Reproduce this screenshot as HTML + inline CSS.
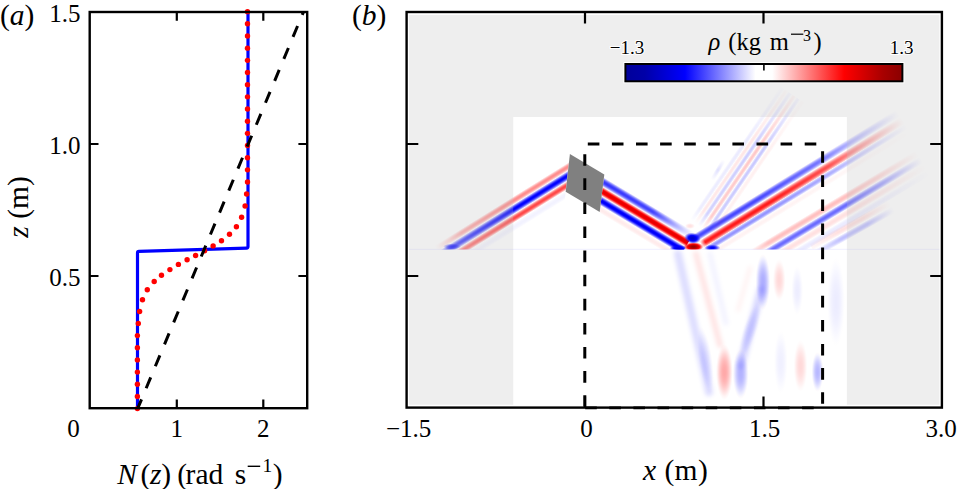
<!DOCTYPE html><html><head><meta charset="utf-8"><style>html,body{margin:0;padding:0;background:#fff;overflow:hidden}svg{display:block;font-family:"Liberation Serif",serif}</style></head><body>
<svg width="957" height="489" viewBox="0 0 957 489">
<defs>
<clipPath id="ca"><rect x="89.7" y="12" width="217.5" height="396.2"/></clipPath>
<clipPath id="cpL"><polygon points="400,0 587,0 553.67,300 400,300"/></clipPath>
<clipPath id="cpR"><polygon points="625.77,0 957,0 957,300 588.88,300"/></clipPath>
<clipPath id="cupper"><rect x="409" y="15" width="530.4" height="234.6"/></clipPath>
<clipPath id="clower"><rect x="409" y="249.6" width="530.4" height="155.1"/></clipPath>
<filter id="blr" x="-20%" y="-20%" width="140%" height="140%"><feGaussianBlur stdDeviation="1.6"/></filter>
<filter id="blr2" x="-50%" y="-20%" width="200%" height="140%"><feGaussianBlur stdDeviation="2.2"/></filter>
<linearGradient id="cbar" x1="0" y1="0" x2="1" y2="0"><stop offset="0" stop-color="#00009a"/><stop offset="0.07" stop-color="#0000a8"/><stop offset="0.215" stop-color="#0000ff"/><stop offset="0.47" stop-color="#fff"/><stop offset="0.53" stop-color="#fff"/><stop offset="0.79" stop-color="#ff0000"/><stop offset="0.93" stop-color="#a80000"/><stop offset="1" stop-color="#8a0000"/></linearGradient>
<linearGradient id="L1" x1="0" y1="0" x2="0" y2="1"><stop offset="0.000" stop-color="rgb(255,0,0)" stop-opacity="0.000"/><stop offset="0.010" stop-color="rgb(255,0,0)" stop-opacity="0.000"/><stop offset="0.021" stop-color="rgb(255,0,0)" stop-opacity="0.000"/><stop offset="0.031" stop-color="rgb(255,0,0)" stop-opacity="0.000"/><stop offset="0.042" stop-color="rgb(255,0,0)" stop-opacity="0.000"/><stop offset="0.052" stop-color="rgb(255,0,0)" stop-opacity="0.000"/><stop offset="0.062" stop-color="rgb(255,0,0)" stop-opacity="0.000"/><stop offset="0.073" stop-color="rgb(255,0,0)" stop-opacity="0.000"/><stop offset="0.083" stop-color="rgb(255,0,0)" stop-opacity="0.000"/><stop offset="0.094" stop-color="rgb(255,0,0)" stop-opacity="0.000"/><stop offset="0.104" stop-color="rgb(255,0,0)" stop-opacity="0.000"/><stop offset="0.115" stop-color="rgb(255,0,0)" stop-opacity="0.000"/><stop offset="0.125" stop-color="rgb(255,0,0)" stop-opacity="0.000"/><stop offset="0.135" stop-color="rgb(255,0,0)" stop-opacity="0.000"/><stop offset="0.146" stop-color="rgb(255,0,0)" stop-opacity="0.000"/><stop offset="0.156" stop-color="rgb(255,0,0)" stop-opacity="0.000"/><stop offset="0.167" stop-color="rgb(255,0,0)" stop-opacity="0.000"/><stop offset="0.177" stop-color="rgb(255,0,0)" stop-opacity="0.000"/><stop offset="0.188" stop-color="rgb(255,0,0)" stop-opacity="0.000"/><stop offset="0.198" stop-color="rgb(255,0,0)" stop-opacity="0.000"/><stop offset="0.208" stop-color="rgb(255,0,0)" stop-opacity="0.000"/><stop offset="0.219" stop-color="rgb(255,0,0)" stop-opacity="0.000"/><stop offset="0.229" stop-color="rgb(255,0,0)" stop-opacity="0.000"/><stop offset="0.240" stop-color="rgb(255,0,0)" stop-opacity="0.000"/><stop offset="0.250" stop-color="rgb(255,0,0)" stop-opacity="0.000"/><stop offset="0.260" stop-color="rgb(255,0,0)" stop-opacity="0.000"/><stop offset="0.271" stop-color="rgb(255,0,0)" stop-opacity="0.000"/><stop offset="0.281" stop-color="rgb(255,0,0)" stop-opacity="0.000"/><stop offset="0.292" stop-color="rgb(255,0,0)" stop-opacity="0.000"/><stop offset="0.302" stop-color="rgb(255,0,0)" stop-opacity="0.000"/><stop offset="0.312" stop-color="rgb(255,0,0)" stop-opacity="0.000"/><stop offset="0.323" stop-color="rgb(255,0,0)" stop-opacity="0.000"/><stop offset="0.333" stop-color="rgb(255,0,0)" stop-opacity="0.000"/><stop offset="0.344" stop-color="rgb(255,0,0)" stop-opacity="0.000"/><stop offset="0.354" stop-color="rgb(255,0,0)" stop-opacity="0.000"/><stop offset="0.365" stop-color="rgb(255,0,0)" stop-opacity="0.000"/><stop offset="0.375" stop-color="rgb(255,0,0)" stop-opacity="0.000"/><stop offset="0.385" stop-color="rgb(255,0,0)" stop-opacity="0.000"/><stop offset="0.396" stop-color="rgb(255,0,0)" stop-opacity="0.000"/><stop offset="0.406" stop-color="rgb(0,0,255)" stop-opacity="0.028"/><stop offset="0.417" stop-color="rgb(0,0,255)" stop-opacity="0.198"/><stop offset="0.427" stop-color="rgb(0,0,255)" stop-opacity="0.362"/><stop offset="0.438" stop-color="rgb(0,0,255)" stop-opacity="0.516"/><stop offset="0.448" stop-color="rgb(0,0,255)" stop-opacity="0.655"/><stop offset="0.458" stop-color="rgb(0,0,255)" stop-opacity="0.774"/><stop offset="0.469" stop-color="rgb(0,0,255)" stop-opacity="0.871"/><stop offset="0.479" stop-color="rgb(0,0,255)" stop-opacity="0.942"/><stop offset="0.490" stop-color="rgb(0,0,255)" stop-opacity="0.985"/><stop offset="0.500" stop-color="rgb(0,0,255)" stop-opacity="1.000"/><stop offset="0.510" stop-color="rgb(0,0,255)" stop-opacity="0.985"/><stop offset="0.521" stop-color="rgb(0,0,255)" stop-opacity="0.942"/><stop offset="0.531" stop-color="rgb(0,0,255)" stop-opacity="0.871"/><stop offset="0.542" stop-color="rgb(0,0,255)" stop-opacity="0.774"/><stop offset="0.552" stop-color="rgb(0,0,255)" stop-opacity="0.655"/><stop offset="0.562" stop-color="rgb(0,0,255)" stop-opacity="0.516"/><stop offset="0.573" stop-color="rgb(0,0,255)" stop-opacity="0.362"/><stop offset="0.583" stop-color="rgb(0,0,255)" stop-opacity="0.198"/><stop offset="0.594" stop-color="rgb(0,0,255)" stop-opacity="0.028"/><stop offset="0.604" stop-color="rgb(255,0,0)" stop-opacity="0.120"/><stop offset="0.615" stop-color="rgb(255,0,0)" stop-opacity="0.259"/><stop offset="0.625" stop-color="rgb(255,0,0)" stop-opacity="0.387"/><stop offset="0.635" stop-color="rgb(255,0,0)" stop-opacity="0.500"/><stop offset="0.646" stop-color="rgb(255,0,0)" stop-opacity="0.593"/><stop offset="0.656" stop-color="rgb(255,0,0)" stop-opacity="0.662"/><stop offset="0.667" stop-color="rgb(255,0,0)" stop-opacity="0.705"/><stop offset="0.677" stop-color="rgb(255,0,0)" stop-opacity="0.720"/><stop offset="0.688" stop-color="rgb(255,0,0)" stop-opacity="0.706"/><stop offset="0.698" stop-color="rgb(255,0,0)" stop-opacity="0.664"/><stop offset="0.708" stop-color="rgb(255,0,0)" stop-opacity="0.596"/><stop offset="0.719" stop-color="rgb(255,0,0)" stop-opacity="0.504"/><stop offset="0.729" stop-color="rgb(255,0,0)" stop-opacity="0.391"/><stop offset="0.740" stop-color="rgb(255,0,0)" stop-opacity="0.263"/><stop offset="0.750" stop-color="rgb(255,0,0)" stop-opacity="0.125"/><stop offset="0.760" stop-color="rgb(255,0,0)" stop-opacity="0.000"/><stop offset="0.771" stop-color="rgb(0,0,255)" stop-opacity="0.005"/><stop offset="0.781" stop-color="rgb(0,0,255)" stop-opacity="0.015"/><stop offset="0.792" stop-color="rgb(0,0,255)" stop-opacity="0.024"/><stop offset="0.802" stop-color="rgb(0,0,255)" stop-opacity="0.032"/><stop offset="0.812" stop-color="rgb(0,0,255)" stop-opacity="0.039"/><stop offset="0.823" stop-color="rgb(0,0,255)" stop-opacity="0.044"/><stop offset="0.833" stop-color="rgb(0,0,255)" stop-opacity="0.048"/><stop offset="0.844" stop-color="rgb(0,0,255)" stop-opacity="0.050"/><stop offset="0.854" stop-color="rgb(0,0,255)" stop-opacity="0.050"/><stop offset="0.865" stop-color="rgb(0,0,255)" stop-opacity="0.047"/><stop offset="0.875" stop-color="rgb(0,0,255)" stop-opacity="0.043"/><stop offset="0.885" stop-color="rgb(0,0,255)" stop-opacity="0.037"/><stop offset="0.896" stop-color="rgb(0,0,255)" stop-opacity="0.030"/><stop offset="0.906" stop-color="rgb(0,0,255)" stop-opacity="0.022"/><stop offset="0.917" stop-color="rgb(0,0,255)" stop-opacity="0.012"/><stop offset="0.927" stop-color="rgb(0,0,255)" stop-opacity="0.002"/><stop offset="0.938" stop-color="rgb(255,0,0)" stop-opacity="0.000"/><stop offset="0.948" stop-color="rgb(255,0,0)" stop-opacity="0.000"/><stop offset="0.958" stop-color="rgb(255,0,0)" stop-opacity="0.000"/><stop offset="0.969" stop-color="rgb(255,0,0)" stop-opacity="0.000"/><stop offset="0.979" stop-color="rgb(255,0,0)" stop-opacity="0.000"/><stop offset="0.990" stop-color="rgb(255,0,0)" stop-opacity="0.000"/><stop offset="1.000" stop-color="rgb(255,0,0)" stop-opacity="0.000"/></linearGradient>
<linearGradient id="L1mg" x1="0" y1="0" x2="1" y2="0"><stop offset="0.000" stop-color="#fff" stop-opacity="0.000"/><stop offset="0.043" stop-color="#fff" stop-opacity="0.450"/><stop offset="0.097" stop-color="#fff" stop-opacity="0.650"/><stop offset="0.269" stop-color="#fff" stop-opacity="0.800"/><stop offset="0.511" stop-color="#fff" stop-opacity="1.000"/><stop offset="1.000" stop-color="#fff" stop-opacity="1.000"/></linearGradient>
<mask id="L1m" maskUnits="userSpaceOnUse" x="-5" y="-27" width="195.9" height="54"><rect x="0" y="-22" width="185.9" height="44" fill="url(#L1mg)"/></mask>
<linearGradient id="L1u" x1="0" y1="0" x2="0" y2="1"><stop offset="0.000" stop-color="rgb(255,0,0)" stop-opacity="0.000"/><stop offset="0.010" stop-color="rgb(255,0,0)" stop-opacity="0.000"/><stop offset="0.021" stop-color="rgb(255,0,0)" stop-opacity="0.000"/><stop offset="0.031" stop-color="rgb(255,0,0)" stop-opacity="0.000"/><stop offset="0.042" stop-color="rgb(255,0,0)" stop-opacity="0.000"/><stop offset="0.052" stop-color="rgb(255,0,0)" stop-opacity="0.000"/><stop offset="0.062" stop-color="rgb(255,0,0)" stop-opacity="0.000"/><stop offset="0.073" stop-color="rgb(255,0,0)" stop-opacity="0.000"/><stop offset="0.083" stop-color="rgb(255,0,0)" stop-opacity="0.000"/><stop offset="0.094" stop-color="rgb(255,0,0)" stop-opacity="0.000"/><stop offset="0.104" stop-color="rgb(255,0,0)" stop-opacity="0.000"/><stop offset="0.115" stop-color="rgb(255,0,0)" stop-opacity="0.000"/><stop offset="0.125" stop-color="rgb(255,0,0)" stop-opacity="0.000"/><stop offset="0.135" stop-color="rgb(255,0,0)" stop-opacity="0.000"/><stop offset="0.146" stop-color="rgb(255,0,0)" stop-opacity="0.000"/><stop offset="0.156" stop-color="rgb(255,0,0)" stop-opacity="0.000"/><stop offset="0.167" stop-color="rgb(255,0,0)" stop-opacity="0.000"/><stop offset="0.177" stop-color="rgb(255,0,0)" stop-opacity="0.000"/><stop offset="0.188" stop-color="rgb(255,0,0)" stop-opacity="0.000"/><stop offset="0.198" stop-color="rgb(255,0,0)" stop-opacity="0.000"/><stop offset="0.208" stop-color="rgb(255,0,0)" stop-opacity="0.000"/><stop offset="0.219" stop-color="rgb(255,0,0)" stop-opacity="0.000"/><stop offset="0.229" stop-color="rgb(255,0,0)" stop-opacity="0.000"/><stop offset="0.240" stop-color="rgb(255,0,0)" stop-opacity="0.000"/><stop offset="0.250" stop-color="rgb(255,0,0)" stop-opacity="0.000"/><stop offset="0.260" stop-color="rgb(255,0,0)" stop-opacity="0.074"/><stop offset="0.271" stop-color="rgb(255,0,0)" stop-opacity="0.166"/><stop offset="0.281" stop-color="rgb(255,0,0)" stop-opacity="0.250"/><stop offset="0.292" stop-color="rgb(255,0,0)" stop-opacity="0.323"/><stop offset="0.302" stop-color="rgb(255,0,0)" stop-opacity="0.382"/><stop offset="0.312" stop-color="rgb(255,0,0)" stop-opacity="0.423"/><stop offset="0.323" stop-color="rgb(255,0,0)" stop-opacity="0.446"/><stop offset="0.333" stop-color="rgb(255,0,0)" stop-opacity="0.449"/><stop offset="0.344" stop-color="rgb(255,0,0)" stop-opacity="0.431"/><stop offset="0.354" stop-color="rgb(255,0,0)" stop-opacity="0.395"/><stop offset="0.365" stop-color="rgb(255,0,0)" stop-opacity="0.341"/><stop offset="0.375" stop-color="rgb(255,0,0)" stop-opacity="0.271"/><stop offset="0.385" stop-color="rgb(255,0,0)" stop-opacity="0.190"/><stop offset="0.396" stop-color="rgb(255,0,0)" stop-opacity="0.100"/><stop offset="0.406" stop-color="rgb(255,0,0)" stop-opacity="0.005"/><stop offset="0.417" stop-color="rgb(255,0,0)" stop-opacity="0.000"/><stop offset="0.427" stop-color="rgb(255,0,0)" stop-opacity="0.000"/><stop offset="0.438" stop-color="rgb(255,0,0)" stop-opacity="0.000"/><stop offset="0.448" stop-color="rgb(255,0,0)" stop-opacity="0.000"/><stop offset="0.458" stop-color="rgb(255,0,0)" stop-opacity="0.000"/><stop offset="0.469" stop-color="rgb(255,0,0)" stop-opacity="0.000"/><stop offset="0.479" stop-color="rgb(255,0,0)" stop-opacity="0.000"/><stop offset="0.490" stop-color="rgb(255,0,0)" stop-opacity="0.000"/><stop offset="0.500" stop-color="rgb(255,0,0)" stop-opacity="0.000"/><stop offset="0.510" stop-color="rgb(255,0,0)" stop-opacity="0.000"/><stop offset="0.521" stop-color="rgb(255,0,0)" stop-opacity="0.000"/><stop offset="0.531" stop-color="rgb(255,0,0)" stop-opacity="0.000"/><stop offset="0.542" stop-color="rgb(255,0,0)" stop-opacity="0.000"/><stop offset="0.552" stop-color="rgb(255,0,0)" stop-opacity="0.000"/><stop offset="0.562" stop-color="rgb(255,0,0)" stop-opacity="0.000"/><stop offset="0.573" stop-color="rgb(255,0,0)" stop-opacity="0.000"/><stop offset="0.583" stop-color="rgb(255,0,0)" stop-opacity="0.000"/><stop offset="0.594" stop-color="rgb(255,0,0)" stop-opacity="0.000"/><stop offset="0.604" stop-color="rgb(255,0,0)" stop-opacity="0.000"/><stop offset="0.615" stop-color="rgb(255,0,0)" stop-opacity="0.000"/><stop offset="0.625" stop-color="rgb(255,0,0)" stop-opacity="0.000"/><stop offset="0.635" stop-color="rgb(255,0,0)" stop-opacity="0.000"/><stop offset="0.646" stop-color="rgb(255,0,0)" stop-opacity="0.000"/><stop offset="0.656" stop-color="rgb(255,0,0)" stop-opacity="0.000"/><stop offset="0.667" stop-color="rgb(255,0,0)" stop-opacity="0.000"/><stop offset="0.677" stop-color="rgb(255,0,0)" stop-opacity="0.000"/><stop offset="0.688" stop-color="rgb(255,0,0)" stop-opacity="0.000"/><stop offset="0.698" stop-color="rgb(255,0,0)" stop-opacity="0.000"/><stop offset="0.708" stop-color="rgb(255,0,0)" stop-opacity="0.000"/><stop offset="0.719" stop-color="rgb(255,0,0)" stop-opacity="0.000"/><stop offset="0.729" stop-color="rgb(255,0,0)" stop-opacity="0.000"/><stop offset="0.740" stop-color="rgb(255,0,0)" stop-opacity="0.000"/><stop offset="0.750" stop-color="rgb(255,0,0)" stop-opacity="0.000"/><stop offset="0.760" stop-color="rgb(255,0,0)" stop-opacity="0.000"/><stop offset="0.771" stop-color="rgb(255,0,0)" stop-opacity="0.000"/><stop offset="0.781" stop-color="rgb(255,0,0)" stop-opacity="0.000"/><stop offset="0.792" stop-color="rgb(255,0,0)" stop-opacity="0.000"/><stop offset="0.802" stop-color="rgb(255,0,0)" stop-opacity="0.000"/><stop offset="0.812" stop-color="rgb(255,0,0)" stop-opacity="0.000"/><stop offset="0.823" stop-color="rgb(255,0,0)" stop-opacity="0.000"/><stop offset="0.833" stop-color="rgb(255,0,0)" stop-opacity="0.000"/><stop offset="0.844" stop-color="rgb(255,0,0)" stop-opacity="0.000"/><stop offset="0.854" stop-color="rgb(255,0,0)" stop-opacity="0.000"/><stop offset="0.865" stop-color="rgb(255,0,0)" stop-opacity="0.000"/><stop offset="0.875" stop-color="rgb(255,0,0)" stop-opacity="0.000"/><stop offset="0.885" stop-color="rgb(255,0,0)" stop-opacity="0.000"/><stop offset="0.896" stop-color="rgb(255,0,0)" stop-opacity="0.000"/><stop offset="0.906" stop-color="rgb(255,0,0)" stop-opacity="0.000"/><stop offset="0.917" stop-color="rgb(255,0,0)" stop-opacity="0.000"/><stop offset="0.927" stop-color="rgb(255,0,0)" stop-opacity="0.000"/><stop offset="0.938" stop-color="rgb(255,0,0)" stop-opacity="0.000"/><stop offset="0.948" stop-color="rgb(255,0,0)" stop-opacity="0.000"/><stop offset="0.958" stop-color="rgb(255,0,0)" stop-opacity="0.000"/><stop offset="0.969" stop-color="rgb(255,0,0)" stop-opacity="0.000"/><stop offset="0.979" stop-color="rgb(255,0,0)" stop-opacity="0.000"/><stop offset="0.990" stop-color="rgb(255,0,0)" stop-opacity="0.000"/><stop offset="1.000" stop-color="rgb(255,0,0)" stop-opacity="0.000"/></linearGradient>
<linearGradient id="L1umg" x1="0" y1="0" x2="1" y2="0"><stop offset="0.000" stop-color="#fff" stop-opacity="0.000"/><stop offset="0.079" stop-color="#fff" stop-opacity="0.300"/><stop offset="0.170" stop-color="#fff" stop-opacity="0.700"/><stop offset="0.453" stop-color="#fff" stop-opacity="1.000"/><stop offset="1.000" stop-color="#fff" stop-opacity="1.000"/></linearGradient>
<mask id="L1um" maskUnits="userSpaceOnUse" x="-5" y="-27" width="186.49" height="54"><rect x="0" y="-22" width="176.49" height="44" fill="url(#L1umg)"/></mask>
<linearGradient id="D1" x1="0" y1="0" x2="0" y2="1"><stop offset="0.000" stop-color="rgb(255,0,0)" stop-opacity="0.000"/><stop offset="0.010" stop-color="rgb(255,0,0)" stop-opacity="0.000"/><stop offset="0.021" stop-color="rgb(255,0,0)" stop-opacity="0.000"/><stop offset="0.031" stop-color="rgb(255,0,0)" stop-opacity="0.000"/><stop offset="0.042" stop-color="rgb(255,0,0)" stop-opacity="0.000"/><stop offset="0.052" stop-color="rgb(255,0,0)" stop-opacity="0.000"/><stop offset="0.062" stop-color="rgb(255,0,0)" stop-opacity="0.000"/><stop offset="0.073" stop-color="rgb(255,0,0)" stop-opacity="0.000"/><stop offset="0.083" stop-color="rgb(255,0,0)" stop-opacity="0.000"/><stop offset="0.094" stop-color="rgb(255,0,0)" stop-opacity="0.000"/><stop offset="0.104" stop-color="rgb(255,0,0)" stop-opacity="0.000"/><stop offset="0.115" stop-color="rgb(255,0,0)" stop-opacity="0.000"/><stop offset="0.125" stop-color="rgb(255,0,0)" stop-opacity="0.000"/><stop offset="0.135" stop-color="rgb(255,0,0)" stop-opacity="0.000"/><stop offset="0.146" stop-color="rgb(255,0,0)" stop-opacity="0.000"/><stop offset="0.156" stop-color="rgb(255,0,0)" stop-opacity="0.000"/><stop offset="0.167" stop-color="rgb(255,0,0)" stop-opacity="0.000"/><stop offset="0.177" stop-color="rgb(255,0,0)" stop-opacity="0.000"/><stop offset="0.188" stop-color="rgb(255,0,0)" stop-opacity="0.000"/><stop offset="0.198" stop-color="rgb(255,0,0)" stop-opacity="0.000"/><stop offset="0.208" stop-color="rgb(255,0,0)" stop-opacity="0.000"/><stop offset="0.219" stop-color="rgb(255,0,0)" stop-opacity="0.000"/><stop offset="0.229" stop-color="rgb(255,0,0)" stop-opacity="0.000"/><stop offset="0.240" stop-color="rgb(255,0,0)" stop-opacity="0.000"/><stop offset="0.250" stop-color="rgb(255,0,0)" stop-opacity="0.000"/><stop offset="0.260" stop-color="rgb(255,0,0)" stop-opacity="0.000"/><stop offset="0.271" stop-color="rgb(255,0,0)" stop-opacity="0.000"/><stop offset="0.281" stop-color="rgb(255,0,0)" stop-opacity="0.000"/><stop offset="0.292" stop-color="rgb(255,0,0)" stop-opacity="0.000"/><stop offset="0.302" stop-color="rgb(255,0,0)" stop-opacity="0.000"/><stop offset="0.312" stop-color="rgb(255,0,0)" stop-opacity="0.000"/><stop offset="0.323" stop-color="rgb(255,0,0)" stop-opacity="0.000"/><stop offset="0.333" stop-color="rgb(255,0,0)" stop-opacity="0.000"/><stop offset="0.344" stop-color="rgb(255,0,0)" stop-opacity="0.000"/><stop offset="0.354" stop-color="rgb(255,0,0)" stop-opacity="0.000"/><stop offset="0.365" stop-color="rgb(255,0,0)" stop-opacity="0.000"/><stop offset="0.375" stop-color="rgb(255,0,0)" stop-opacity="0.000"/><stop offset="0.385" stop-color="rgb(255,0,0)" stop-opacity="0.000"/><stop offset="0.396" stop-color="rgb(255,0,0)" stop-opacity="0.000"/><stop offset="0.406" stop-color="rgb(255,0,0)" stop-opacity="0.077"/><stop offset="0.417" stop-color="rgb(255,0,0)" stop-opacity="0.275"/><stop offset="0.427" stop-color="rgb(255,0,0)" stop-opacity="0.466"/><stop offset="0.438" stop-color="rgb(255,0,0)" stop-opacity="0.644"/><stop offset="0.448" stop-color="rgb(255,0,0)" stop-opacity="0.803"/><stop offset="0.458" stop-color="rgb(255,0,0)" stop-opacity="0.941"/><stop offset="0.469" stop-color="rgb(248,0,0)" stop-opacity="1.000"/><stop offset="0.479" stop-color="rgb(238,0,0)" stop-opacity="1.000"/><stop offset="0.490" stop-color="rgb(232,0,0)" stop-opacity="1.000"/><stop offset="0.500" stop-color="rgb(230,0,0)" stop-opacity="1.000"/><stop offset="0.510" stop-color="rgb(232,0,0)" stop-opacity="1.000"/><stop offset="0.521" stop-color="rgb(238,0,0)" stop-opacity="1.000"/><stop offset="0.531" stop-color="rgb(248,0,0)" stop-opacity="1.000"/><stop offset="0.542" stop-color="rgb(255,0,0)" stop-opacity="0.941"/><stop offset="0.552" stop-color="rgb(255,0,0)" stop-opacity="0.803"/><stop offset="0.562" stop-color="rgb(255,0,0)" stop-opacity="0.644"/><stop offset="0.573" stop-color="rgb(255,0,0)" stop-opacity="0.466"/><stop offset="0.583" stop-color="rgb(255,0,0)" stop-opacity="0.275"/><stop offset="0.594" stop-color="rgb(255,0,0)" stop-opacity="0.077"/><stop offset="0.604" stop-color="rgb(0,0,255)" stop-opacity="0.108"/><stop offset="0.615" stop-color="rgb(0,0,255)" stop-opacity="0.281"/><stop offset="0.625" stop-color="rgb(0,0,255)" stop-opacity="0.446"/><stop offset="0.635" stop-color="rgb(0,0,255)" stop-opacity="0.598"/><stop offset="0.646" stop-color="rgb(0,0,255)" stop-opacity="0.733"/><stop offset="0.656" stop-color="rgb(0,0,255)" stop-opacity="0.848"/><stop offset="0.667" stop-color="rgb(0,0,255)" stop-opacity="0.940"/><stop offset="0.677" stop-color="rgb(0,0,254)" stop-opacity="1.000"/><stop offset="0.688" stop-color="rgb(0,0,249)" stop-opacity="1.000"/><stop offset="0.698" stop-color="rgb(0,0,248)" stop-opacity="1.000"/><stop offset="0.708" stop-color="rgb(0,0,251)" stop-opacity="1.000"/><stop offset="0.719" stop-color="rgb(0,0,255)" stop-opacity="0.977"/><stop offset="0.729" stop-color="rgb(0,0,255)" stop-opacity="0.900"/><stop offset="0.740" stop-color="rgb(0,0,255)" stop-opacity="0.797"/><stop offset="0.750" stop-color="rgb(0,0,255)" stop-opacity="0.672"/><stop offset="0.760" stop-color="rgb(0,0,255)" stop-opacity="0.528"/><stop offset="0.771" stop-color="rgb(0,0,255)" stop-opacity="0.369"/><stop offset="0.781" stop-color="rgb(0,0,255)" stop-opacity="0.200"/><stop offset="0.792" stop-color="rgb(0,0,255)" stop-opacity="0.026"/><stop offset="0.802" stop-color="rgb(255,0,0)" stop-opacity="0.003"/><stop offset="0.812" stop-color="rgb(255,0,0)" stop-opacity="0.021"/><stop offset="0.823" stop-color="rgb(255,0,0)" stop-opacity="0.037"/><stop offset="0.833" stop-color="rgb(255,0,0)" stop-opacity="0.051"/><stop offset="0.844" stop-color="rgb(255,0,0)" stop-opacity="0.063"/><stop offset="0.854" stop-color="rgb(255,0,0)" stop-opacity="0.073"/><stop offset="0.865" stop-color="rgb(255,0,0)" stop-opacity="0.078"/><stop offset="0.875" stop-color="rgb(255,0,0)" stop-opacity="0.080"/><stop offset="0.885" stop-color="rgb(255,0,0)" stop-opacity="0.078"/><stop offset="0.896" stop-color="rgb(255,0,0)" stop-opacity="0.073"/><stop offset="0.906" stop-color="rgb(255,0,0)" stop-opacity="0.063"/><stop offset="0.917" stop-color="rgb(255,0,0)" stop-opacity="0.051"/><stop offset="0.927" stop-color="rgb(255,0,0)" stop-opacity="0.037"/><stop offset="0.938" stop-color="rgb(255,0,0)" stop-opacity="0.021"/><stop offset="0.948" stop-color="rgb(255,0,0)" stop-opacity="0.003"/><stop offset="0.958" stop-color="rgb(255,0,0)" stop-opacity="0.000"/><stop offset="0.969" stop-color="rgb(255,0,0)" stop-opacity="0.000"/><stop offset="0.979" stop-color="rgb(255,0,0)" stop-opacity="0.000"/><stop offset="0.990" stop-color="rgb(255,0,0)" stop-opacity="0.000"/><stop offset="1.000" stop-color="rgb(255,0,0)" stop-opacity="0.000"/></linearGradient>
<linearGradient id="D1t" x1="0" y1="0" x2="0" y2="1"><stop offset="0.000" stop-color="rgb(255,0,0)" stop-opacity="0.000"/><stop offset="0.010" stop-color="rgb(255,0,0)" stop-opacity="0.000"/><stop offset="0.021" stop-color="rgb(255,0,0)" stop-opacity="0.000"/><stop offset="0.031" stop-color="rgb(255,0,0)" stop-opacity="0.000"/><stop offset="0.042" stop-color="rgb(255,0,0)" stop-opacity="0.000"/><stop offset="0.052" stop-color="rgb(255,0,0)" stop-opacity="0.000"/><stop offset="0.062" stop-color="rgb(255,0,0)" stop-opacity="0.000"/><stop offset="0.073" stop-color="rgb(255,0,0)" stop-opacity="0.000"/><stop offset="0.083" stop-color="rgb(255,0,0)" stop-opacity="0.000"/><stop offset="0.094" stop-color="rgb(255,0,0)" stop-opacity="0.000"/><stop offset="0.104" stop-color="rgb(255,0,0)" stop-opacity="0.000"/><stop offset="0.115" stop-color="rgb(255,0,0)" stop-opacity="0.000"/><stop offset="0.125" stop-color="rgb(255,0,0)" stop-opacity="0.000"/><stop offset="0.135" stop-color="rgb(255,0,0)" stop-opacity="0.000"/><stop offset="0.146" stop-color="rgb(255,0,0)" stop-opacity="0.000"/><stop offset="0.156" stop-color="rgb(255,0,0)" stop-opacity="0.000"/><stop offset="0.167" stop-color="rgb(255,0,0)" stop-opacity="0.000"/><stop offset="0.177" stop-color="rgb(255,0,0)" stop-opacity="0.000"/><stop offset="0.188" stop-color="rgb(255,0,0)" stop-opacity="0.000"/><stop offset="0.198" stop-color="rgb(255,0,0)" stop-opacity="0.000"/><stop offset="0.208" stop-color="rgb(0,0,255)" stop-opacity="0.020"/><stop offset="0.219" stop-color="rgb(0,0,255)" stop-opacity="0.156"/><stop offset="0.229" stop-color="rgb(0,0,255)" stop-opacity="0.288"/><stop offset="0.240" stop-color="rgb(0,0,255)" stop-opacity="0.412"/><stop offset="0.250" stop-color="rgb(0,0,255)" stop-opacity="0.525"/><stop offset="0.260" stop-color="rgb(0,0,255)" stop-opacity="0.622"/><stop offset="0.271" stop-color="rgb(0,0,255)" stop-opacity="0.703"/><stop offset="0.281" stop-color="rgb(0,0,255)" stop-opacity="0.763"/><stop offset="0.292" stop-color="rgb(0,0,255)" stop-opacity="0.802"/><stop offset="0.302" stop-color="rgb(0,0,255)" stop-opacity="0.819"/><stop offset="0.312" stop-color="rgb(0,0,255)" stop-opacity="0.813"/><stop offset="0.323" stop-color="rgb(0,0,255)" stop-opacity="0.785"/><stop offset="0.333" stop-color="rgb(0,0,255)" stop-opacity="0.734"/><stop offset="0.344" stop-color="rgb(0,0,255)" stop-opacity="0.663"/><stop offset="0.354" stop-color="rgb(0,0,255)" stop-opacity="0.573"/><stop offset="0.365" stop-color="rgb(0,0,255)" stop-opacity="0.467"/><stop offset="0.375" stop-color="rgb(0,0,255)" stop-opacity="0.348"/><stop offset="0.385" stop-color="rgb(0,0,255)" stop-opacity="0.219"/><stop offset="0.396" stop-color="rgb(0,0,255)" stop-opacity="0.085"/><stop offset="0.406" stop-color="rgb(255,0,0)" stop-opacity="0.000"/><stop offset="0.417" stop-color="rgb(255,0,0)" stop-opacity="0.000"/><stop offset="0.427" stop-color="rgb(255,0,0)" stop-opacity="0.000"/><stop offset="0.438" stop-color="rgb(255,0,0)" stop-opacity="0.000"/><stop offset="0.448" stop-color="rgb(255,0,0)" stop-opacity="0.000"/><stop offset="0.458" stop-color="rgb(255,0,0)" stop-opacity="0.000"/><stop offset="0.469" stop-color="rgb(255,0,0)" stop-opacity="0.000"/><stop offset="0.479" stop-color="rgb(255,0,0)" stop-opacity="0.000"/><stop offset="0.490" stop-color="rgb(255,0,0)" stop-opacity="0.000"/><stop offset="0.500" stop-color="rgb(255,0,0)" stop-opacity="0.000"/><stop offset="0.510" stop-color="rgb(255,0,0)" stop-opacity="0.000"/><stop offset="0.521" stop-color="rgb(255,0,0)" stop-opacity="0.000"/><stop offset="0.531" stop-color="rgb(255,0,0)" stop-opacity="0.000"/><stop offset="0.542" stop-color="rgb(255,0,0)" stop-opacity="0.000"/><stop offset="0.552" stop-color="rgb(255,0,0)" stop-opacity="0.000"/><stop offset="0.562" stop-color="rgb(255,0,0)" stop-opacity="0.000"/><stop offset="0.573" stop-color="rgb(255,0,0)" stop-opacity="0.000"/><stop offset="0.583" stop-color="rgb(255,0,0)" stop-opacity="0.000"/><stop offset="0.594" stop-color="rgb(255,0,0)" stop-opacity="0.000"/><stop offset="0.604" stop-color="rgb(255,0,0)" stop-opacity="0.000"/><stop offset="0.615" stop-color="rgb(255,0,0)" stop-opacity="0.000"/><stop offset="0.625" stop-color="rgb(255,0,0)" stop-opacity="0.000"/><stop offset="0.635" stop-color="rgb(255,0,0)" stop-opacity="0.000"/><stop offset="0.646" stop-color="rgb(255,0,0)" stop-opacity="0.000"/><stop offset="0.656" stop-color="rgb(255,0,0)" stop-opacity="0.000"/><stop offset="0.667" stop-color="rgb(255,0,0)" stop-opacity="0.000"/><stop offset="0.677" stop-color="rgb(255,0,0)" stop-opacity="0.000"/><stop offset="0.688" stop-color="rgb(255,0,0)" stop-opacity="0.000"/><stop offset="0.698" stop-color="rgb(255,0,0)" stop-opacity="0.000"/><stop offset="0.708" stop-color="rgb(255,0,0)" stop-opacity="0.000"/><stop offset="0.719" stop-color="rgb(255,0,0)" stop-opacity="0.000"/><stop offset="0.729" stop-color="rgb(255,0,0)" stop-opacity="0.000"/><stop offset="0.740" stop-color="rgb(255,0,0)" stop-opacity="0.000"/><stop offset="0.750" stop-color="rgb(255,0,0)" stop-opacity="0.000"/><stop offset="0.760" stop-color="rgb(255,0,0)" stop-opacity="0.000"/><stop offset="0.771" stop-color="rgb(255,0,0)" stop-opacity="0.000"/><stop offset="0.781" stop-color="rgb(255,0,0)" stop-opacity="0.000"/><stop offset="0.792" stop-color="rgb(255,0,0)" stop-opacity="0.000"/><stop offset="0.802" stop-color="rgb(255,0,0)" stop-opacity="0.000"/><stop offset="0.812" stop-color="rgb(255,0,0)" stop-opacity="0.000"/><stop offset="0.823" stop-color="rgb(255,0,0)" stop-opacity="0.000"/><stop offset="0.833" stop-color="rgb(255,0,0)" stop-opacity="0.000"/><stop offset="0.844" stop-color="rgb(255,0,0)" stop-opacity="0.000"/><stop offset="0.854" stop-color="rgb(255,0,0)" stop-opacity="0.000"/><stop offset="0.865" stop-color="rgb(255,0,0)" stop-opacity="0.000"/><stop offset="0.875" stop-color="rgb(255,0,0)" stop-opacity="0.000"/><stop offset="0.885" stop-color="rgb(255,0,0)" stop-opacity="0.000"/><stop offset="0.896" stop-color="rgb(255,0,0)" stop-opacity="0.000"/><stop offset="0.906" stop-color="rgb(255,0,0)" stop-opacity="0.000"/><stop offset="0.917" stop-color="rgb(255,0,0)" stop-opacity="0.000"/><stop offset="0.927" stop-color="rgb(255,0,0)" stop-opacity="0.000"/><stop offset="0.938" stop-color="rgb(255,0,0)" stop-opacity="0.000"/><stop offset="0.948" stop-color="rgb(255,0,0)" stop-opacity="0.000"/><stop offset="0.958" stop-color="rgb(255,0,0)" stop-opacity="0.000"/><stop offset="0.969" stop-color="rgb(255,0,0)" stop-opacity="0.000"/><stop offset="0.979" stop-color="rgb(255,0,0)" stop-opacity="0.000"/><stop offset="0.990" stop-color="rgb(255,0,0)" stop-opacity="0.000"/><stop offset="1.000" stop-color="rgb(255,0,0)" stop-opacity="0.000"/></linearGradient>
<linearGradient id="D1tmg" x1="0" y1="0" x2="1" y2="0"><stop offset="0.000" stop-color="#fff" stop-opacity="1.000"/><stop offset="0.624" stop-color="#fff" stop-opacity="0.900"/><stop offset="0.842" stop-color="#fff" stop-opacity="0.350"/><stop offset="0.998" stop-color="#fff" stop-opacity="0.000"/></linearGradient>
<mask id="D1tm" maskUnits="userSpaceOnUse" x="-5" y="-27" width="138.28" height="54"><rect x="0" y="-22" width="128.28" height="44" fill="url(#D1tmg)"/></mask>
<linearGradient id="R1" x1="0" y1="0" x2="0" y2="1"><stop offset="0.000" stop-color="rgb(255,0,0)" stop-opacity="0.000"/><stop offset="0.010" stop-color="rgb(255,0,0)" stop-opacity="0.000"/><stop offset="0.021" stop-color="rgb(255,0,0)" stop-opacity="0.000"/><stop offset="0.031" stop-color="rgb(255,0,0)" stop-opacity="0.000"/><stop offset="0.042" stop-color="rgb(255,0,0)" stop-opacity="0.000"/><stop offset="0.052" stop-color="rgb(255,0,0)" stop-opacity="0.000"/><stop offset="0.062" stop-color="rgb(255,0,0)" stop-opacity="0.000"/><stop offset="0.073" stop-color="rgb(255,0,0)" stop-opacity="0.000"/><stop offset="0.083" stop-color="rgb(255,0,0)" stop-opacity="0.000"/><stop offset="0.094" stop-color="rgb(255,0,0)" stop-opacity="0.000"/><stop offset="0.104" stop-color="rgb(255,0,0)" stop-opacity="0.000"/><stop offset="0.115" stop-color="rgb(255,0,0)" stop-opacity="0.000"/><stop offset="0.125" stop-color="rgb(255,0,0)" stop-opacity="0.000"/><stop offset="0.135" stop-color="rgb(255,0,0)" stop-opacity="0.000"/><stop offset="0.146" stop-color="rgb(255,0,0)" stop-opacity="0.000"/><stop offset="0.156" stop-color="rgb(255,0,0)" stop-opacity="0.000"/><stop offset="0.167" stop-color="rgb(255,0,0)" stop-opacity="0.000"/><stop offset="0.177" stop-color="rgb(255,0,0)" stop-opacity="0.000"/><stop offset="0.188" stop-color="rgb(255,0,0)" stop-opacity="0.000"/><stop offset="0.198" stop-color="rgb(255,0,0)" stop-opacity="0.000"/><stop offset="0.208" stop-color="rgb(255,0,0)" stop-opacity="0.000"/><stop offset="0.219" stop-color="rgb(255,0,0)" stop-opacity="0.000"/><stop offset="0.229" stop-color="rgb(255,0,0)" stop-opacity="0.000"/><stop offset="0.240" stop-color="rgb(255,0,0)" stop-opacity="0.000"/><stop offset="0.250" stop-color="rgb(255,0,0)" stop-opacity="0.000"/><stop offset="0.260" stop-color="rgb(255,0,0)" stop-opacity="0.000"/><stop offset="0.271" stop-color="rgb(255,0,0)" stop-opacity="0.000"/><stop offset="0.281" stop-color="rgb(255,0,0)" stop-opacity="0.000"/><stop offset="0.292" stop-color="rgb(255,0,0)" stop-opacity="0.000"/><stop offset="0.302" stop-color="rgb(255,0,0)" stop-opacity="0.000"/><stop offset="0.312" stop-color="rgb(255,0,0)" stop-opacity="0.000"/><stop offset="0.323" stop-color="rgb(255,0,0)" stop-opacity="0.000"/><stop offset="0.333" stop-color="rgb(255,0,0)" stop-opacity="0.000"/><stop offset="0.344" stop-color="rgb(255,0,0)" stop-opacity="0.000"/><stop offset="0.354" stop-color="rgb(255,0,0)" stop-opacity="0.000"/><stop offset="0.365" stop-color="rgb(255,0,0)" stop-opacity="0.000"/><stop offset="0.375" stop-color="rgb(255,0,0)" stop-opacity="0.000"/><stop offset="0.385" stop-color="rgb(255,0,0)" stop-opacity="0.000"/><stop offset="0.396" stop-color="rgb(255,0,0)" stop-opacity="0.000"/><stop offset="0.406" stop-color="rgb(255,0,0)" stop-opacity="0.000"/><stop offset="0.417" stop-color="rgb(255,0,0)" stop-opacity="0.128"/><stop offset="0.427" stop-color="rgb(255,0,0)" stop-opacity="0.284"/><stop offset="0.438" stop-color="rgb(255,0,0)" stop-opacity="0.431"/><stop offset="0.448" stop-color="rgb(255,0,0)" stop-opacity="0.565"/><stop offset="0.458" stop-color="rgb(255,0,0)" stop-opacity="0.680"/><stop offset="0.469" stop-color="rgb(255,0,0)" stop-opacity="0.774"/><stop offset="0.479" stop-color="rgb(255,0,0)" stop-opacity="0.843"/><stop offset="0.490" stop-color="rgb(255,0,0)" stop-opacity="0.886"/><stop offset="0.500" stop-color="rgb(255,0,0)" stop-opacity="0.900"/><stop offset="0.510" stop-color="rgb(255,0,0)" stop-opacity="0.886"/><stop offset="0.521" stop-color="rgb(255,0,0)" stop-opacity="0.843"/><stop offset="0.531" stop-color="rgb(255,0,0)" stop-opacity="0.774"/><stop offset="0.542" stop-color="rgb(255,0,0)" stop-opacity="0.680"/><stop offset="0.552" stop-color="rgb(255,0,0)" stop-opacity="0.565"/><stop offset="0.562" stop-color="rgb(255,0,0)" stop-opacity="0.431"/><stop offset="0.573" stop-color="rgb(255,0,0)" stop-opacity="0.284"/><stop offset="0.583" stop-color="rgb(255,0,0)" stop-opacity="0.066"/><stop offset="0.594" stop-color="rgb(0,0,255)" stop-opacity="0.161"/><stop offset="0.604" stop-color="rgb(0,0,255)" stop-opacity="0.250"/><stop offset="0.615" stop-color="rgb(0,0,255)" stop-opacity="0.325"/><stop offset="0.625" stop-color="rgb(0,0,255)" stop-opacity="0.380"/><stop offset="0.635" stop-color="rgb(0,0,255)" stop-opacity="0.412"/><stop offset="0.646" stop-color="rgb(0,0,255)" stop-opacity="0.419"/><stop offset="0.656" stop-color="rgb(0,0,255)" stop-opacity="0.402"/><stop offset="0.667" stop-color="rgb(0,0,255)" stop-opacity="0.360"/><stop offset="0.677" stop-color="rgb(0,0,255)" stop-opacity="0.297"/><stop offset="0.688" stop-color="rgb(0,0,255)" stop-opacity="0.216"/><stop offset="0.698" stop-color="rgb(0,0,255)" stop-opacity="0.122"/><stop offset="0.708" stop-color="rgb(0,0,255)" stop-opacity="0.021"/><stop offset="0.719" stop-color="rgb(255,0,0)" stop-opacity="0.013"/><stop offset="0.729" stop-color="rgb(255,0,0)" stop-opacity="0.025"/><stop offset="0.740" stop-color="rgb(255,0,0)" stop-opacity="0.035"/><stop offset="0.750" stop-color="rgb(255,0,0)" stop-opacity="0.043"/><stop offset="0.760" stop-color="rgb(255,0,0)" stop-opacity="0.048"/><stop offset="0.771" stop-color="rgb(255,0,0)" stop-opacity="0.050"/><stop offset="0.781" stop-color="rgb(255,0,0)" stop-opacity="0.048"/><stop offset="0.792" stop-color="rgb(255,0,0)" stop-opacity="0.043"/><stop offset="0.802" stop-color="rgb(255,0,0)" stop-opacity="0.035"/><stop offset="0.812" stop-color="rgb(255,0,0)" stop-opacity="0.025"/><stop offset="0.823" stop-color="rgb(255,0,0)" stop-opacity="0.013"/><stop offset="0.833" stop-color="rgb(255,0,0)" stop-opacity="0.000"/><stop offset="0.844" stop-color="rgb(255,0,0)" stop-opacity="0.000"/><stop offset="0.854" stop-color="rgb(255,0,0)" stop-opacity="0.000"/><stop offset="0.865" stop-color="rgb(255,0,0)" stop-opacity="0.000"/><stop offset="0.875" stop-color="rgb(255,0,0)" stop-opacity="0.000"/><stop offset="0.885" stop-color="rgb(255,0,0)" stop-opacity="0.000"/><stop offset="0.896" stop-color="rgb(255,0,0)" stop-opacity="0.000"/><stop offset="0.906" stop-color="rgb(255,0,0)" stop-opacity="0.000"/><stop offset="0.917" stop-color="rgb(255,0,0)" stop-opacity="0.000"/><stop offset="0.927" stop-color="rgb(255,0,0)" stop-opacity="0.000"/><stop offset="0.938" stop-color="rgb(255,0,0)" stop-opacity="0.000"/><stop offset="0.948" stop-color="rgb(255,0,0)" stop-opacity="0.000"/><stop offset="0.958" stop-color="rgb(255,0,0)" stop-opacity="0.000"/><stop offset="0.969" stop-color="rgb(255,0,0)" stop-opacity="0.000"/><stop offset="0.979" stop-color="rgb(255,0,0)" stop-opacity="0.000"/><stop offset="0.990" stop-color="rgb(255,0,0)" stop-opacity="0.000"/><stop offset="1.000" stop-color="rgb(255,0,0)" stop-opacity="0.000"/></linearGradient>
<linearGradient id="R1mg" x1="0" y1="0" x2="1" y2="0"><stop offset="0.000" stop-color="#fff" stop-opacity="0.000"/><stop offset="0.021" stop-color="#fff" stop-opacity="1.000"/><stop offset="0.334" stop-color="#fff" stop-opacity="1.000"/><stop offset="0.626" stop-color="#fff" stop-opacity="0.750"/><stop offset="0.793" stop-color="#fff" stop-opacity="0.400"/><stop offset="0.990" stop-color="#fff" stop-opacity="0.000"/></linearGradient>
<mask id="R1m" maskUnits="userSpaceOnUse" x="-5" y="-29" width="249.49" height="58"><rect x="0" y="-24" width="239.49" height="48" fill="url(#R1mg)"/></mask>
<linearGradient id="R1t" x1="0" y1="0" x2="0" y2="1"><stop offset="0.000" stop-color="rgb(255,0,0)" stop-opacity="0.000"/><stop offset="0.010" stop-color="rgb(255,0,0)" stop-opacity="0.000"/><stop offset="0.021" stop-color="rgb(255,0,0)" stop-opacity="0.000"/><stop offset="0.031" stop-color="rgb(255,0,0)" stop-opacity="0.000"/><stop offset="0.042" stop-color="rgb(255,0,0)" stop-opacity="0.000"/><stop offset="0.052" stop-color="rgb(255,0,0)" stop-opacity="0.000"/><stop offset="0.062" stop-color="rgb(255,0,0)" stop-opacity="0.000"/><stop offset="0.073" stop-color="rgb(255,0,0)" stop-opacity="0.000"/><stop offset="0.083" stop-color="rgb(255,0,0)" stop-opacity="0.000"/><stop offset="0.094" stop-color="rgb(255,0,0)" stop-opacity="0.000"/><stop offset="0.104" stop-color="rgb(255,0,0)" stop-opacity="0.000"/><stop offset="0.115" stop-color="rgb(255,0,0)" stop-opacity="0.000"/><stop offset="0.125" stop-color="rgb(255,0,0)" stop-opacity="0.000"/><stop offset="0.135" stop-color="rgb(255,0,0)" stop-opacity="0.000"/><stop offset="0.146" stop-color="rgb(255,0,0)" stop-opacity="0.000"/><stop offset="0.156" stop-color="rgb(255,0,0)" stop-opacity="0.000"/><stop offset="0.167" stop-color="rgb(255,0,0)" stop-opacity="0.000"/><stop offset="0.177" stop-color="rgb(255,0,0)" stop-opacity="0.000"/><stop offset="0.188" stop-color="rgb(255,0,0)" stop-opacity="0.000"/><stop offset="0.198" stop-color="rgb(255,0,0)" stop-opacity="0.000"/><stop offset="0.208" stop-color="rgb(255,0,0)" stop-opacity="0.000"/><stop offset="0.219" stop-color="rgb(255,0,0)" stop-opacity="0.000"/><stop offset="0.229" stop-color="rgb(255,0,0)" stop-opacity="0.000"/><stop offset="0.240" stop-color="rgb(0,0,255)" stop-opacity="0.110"/><stop offset="0.250" stop-color="rgb(0,0,255)" stop-opacity="0.243"/><stop offset="0.260" stop-color="rgb(0,0,255)" stop-opacity="0.368"/><stop offset="0.271" stop-color="rgb(0,0,255)" stop-opacity="0.479"/><stop offset="0.281" stop-color="rgb(0,0,255)" stop-opacity="0.573"/><stop offset="0.292" stop-color="rgb(0,0,255)" stop-opacity="0.645"/><stop offset="0.302" stop-color="rgb(0,0,255)" stop-opacity="0.694"/><stop offset="0.312" stop-color="rgb(0,0,255)" stop-opacity="0.718"/><stop offset="0.323" stop-color="rgb(0,0,255)" stop-opacity="0.715"/><stop offset="0.333" stop-color="rgb(0,0,255)" stop-opacity="0.686"/><stop offset="0.344" stop-color="rgb(0,0,255)" stop-opacity="0.633"/><stop offset="0.354" stop-color="rgb(0,0,255)" stop-opacity="0.555"/><stop offset="0.365" stop-color="rgb(0,0,255)" stop-opacity="0.458"/><stop offset="0.375" stop-color="rgb(0,0,255)" stop-opacity="0.344"/><stop offset="0.385" stop-color="rgb(0,0,255)" stop-opacity="0.217"/><stop offset="0.396" stop-color="rgb(0,0,255)" stop-opacity="0.083"/><stop offset="0.406" stop-color="rgb(255,0,0)" stop-opacity="0.000"/><stop offset="0.417" stop-color="rgb(255,0,0)" stop-opacity="0.000"/><stop offset="0.427" stop-color="rgb(255,0,0)" stop-opacity="0.000"/><stop offset="0.438" stop-color="rgb(255,0,0)" stop-opacity="0.000"/><stop offset="0.448" stop-color="rgb(255,0,0)" stop-opacity="0.000"/><stop offset="0.458" stop-color="rgb(255,0,0)" stop-opacity="0.000"/><stop offset="0.469" stop-color="rgb(255,0,0)" stop-opacity="0.000"/><stop offset="0.479" stop-color="rgb(255,0,0)" stop-opacity="0.000"/><stop offset="0.490" stop-color="rgb(255,0,0)" stop-opacity="0.000"/><stop offset="0.500" stop-color="rgb(255,0,0)" stop-opacity="0.000"/><stop offset="0.510" stop-color="rgb(255,0,0)" stop-opacity="0.000"/><stop offset="0.521" stop-color="rgb(255,0,0)" stop-opacity="0.000"/><stop offset="0.531" stop-color="rgb(255,0,0)" stop-opacity="0.000"/><stop offset="0.542" stop-color="rgb(255,0,0)" stop-opacity="0.000"/><stop offset="0.552" stop-color="rgb(255,0,0)" stop-opacity="0.000"/><stop offset="0.562" stop-color="rgb(255,0,0)" stop-opacity="0.000"/><stop offset="0.573" stop-color="rgb(255,0,0)" stop-opacity="0.000"/><stop offset="0.583" stop-color="rgb(255,0,0)" stop-opacity="0.000"/><stop offset="0.594" stop-color="rgb(255,0,0)" stop-opacity="0.000"/><stop offset="0.604" stop-color="rgb(255,0,0)" stop-opacity="0.000"/><stop offset="0.615" stop-color="rgb(255,0,0)" stop-opacity="0.000"/><stop offset="0.625" stop-color="rgb(255,0,0)" stop-opacity="0.000"/><stop offset="0.635" stop-color="rgb(255,0,0)" stop-opacity="0.000"/><stop offset="0.646" stop-color="rgb(255,0,0)" stop-opacity="0.000"/><stop offset="0.656" stop-color="rgb(255,0,0)" stop-opacity="0.000"/><stop offset="0.667" stop-color="rgb(255,0,0)" stop-opacity="0.000"/><stop offset="0.677" stop-color="rgb(255,0,0)" stop-opacity="0.000"/><stop offset="0.688" stop-color="rgb(255,0,0)" stop-opacity="0.000"/><stop offset="0.698" stop-color="rgb(255,0,0)" stop-opacity="0.000"/><stop offset="0.708" stop-color="rgb(255,0,0)" stop-opacity="0.000"/><stop offset="0.719" stop-color="rgb(255,0,0)" stop-opacity="0.000"/><stop offset="0.729" stop-color="rgb(255,0,0)" stop-opacity="0.000"/><stop offset="0.740" stop-color="rgb(255,0,0)" stop-opacity="0.000"/><stop offset="0.750" stop-color="rgb(255,0,0)" stop-opacity="0.000"/><stop offset="0.760" stop-color="rgb(255,0,0)" stop-opacity="0.000"/><stop offset="0.771" stop-color="rgb(255,0,0)" stop-opacity="0.000"/><stop offset="0.781" stop-color="rgb(255,0,0)" stop-opacity="0.000"/><stop offset="0.792" stop-color="rgb(255,0,0)" stop-opacity="0.000"/><stop offset="0.802" stop-color="rgb(255,0,0)" stop-opacity="0.000"/><stop offset="0.812" stop-color="rgb(255,0,0)" stop-opacity="0.000"/><stop offset="0.823" stop-color="rgb(255,0,0)" stop-opacity="0.000"/><stop offset="0.833" stop-color="rgb(255,0,0)" stop-opacity="0.000"/><stop offset="0.844" stop-color="rgb(255,0,0)" stop-opacity="0.000"/><stop offset="0.854" stop-color="rgb(255,0,0)" stop-opacity="0.000"/><stop offset="0.865" stop-color="rgb(255,0,0)" stop-opacity="0.000"/><stop offset="0.875" stop-color="rgb(255,0,0)" stop-opacity="0.000"/><stop offset="0.885" stop-color="rgb(255,0,0)" stop-opacity="0.000"/><stop offset="0.896" stop-color="rgb(255,0,0)" stop-opacity="0.000"/><stop offset="0.906" stop-color="rgb(255,0,0)" stop-opacity="0.000"/><stop offset="0.917" stop-color="rgb(255,0,0)" stop-opacity="0.000"/><stop offset="0.927" stop-color="rgb(255,0,0)" stop-opacity="0.000"/><stop offset="0.938" stop-color="rgb(255,0,0)" stop-opacity="0.000"/><stop offset="0.948" stop-color="rgb(255,0,0)" stop-opacity="0.000"/><stop offset="0.958" stop-color="rgb(255,0,0)" stop-opacity="0.000"/><stop offset="0.969" stop-color="rgb(255,0,0)" stop-opacity="0.000"/><stop offset="0.979" stop-color="rgb(255,0,0)" stop-opacity="0.000"/><stop offset="0.990" stop-color="rgb(255,0,0)" stop-opacity="0.000"/><stop offset="1.000" stop-color="rgb(255,0,0)" stop-opacity="0.000"/></linearGradient>
<linearGradient id="R1tmg" x1="0" y1="0" x2="1" y2="0"><stop offset="0.000" stop-color="#fff" stop-opacity="0.000"/><stop offset="0.032" stop-color="#fff" stop-opacity="1.000"/><stop offset="0.323" stop-color="#fff" stop-opacity="1.000"/><stop offset="0.606" stop-color="#fff" stop-opacity="0.750"/><stop offset="0.767" stop-color="#fff" stop-opacity="0.400"/><stop offset="0.989" stop-color="#fff" stop-opacity="0.000"/></linearGradient>
<mask id="R1tm" maskUnits="userSpaceOnUse" x="-5" y="-29" width="257.71" height="58"><rect x="0" y="-24" width="247.71" height="48" fill="url(#R1tmg)"/></mask>
<linearGradient id="R2" x1="0" y1="0" x2="0" y2="1"><stop offset="0.000" stop-color="rgb(255,0,0)" stop-opacity="0.000"/><stop offset="0.010" stop-color="rgb(255,0,0)" stop-opacity="0.000"/><stop offset="0.021" stop-color="rgb(255,0,0)" stop-opacity="0.000"/><stop offset="0.031" stop-color="rgb(255,0,0)" stop-opacity="0.000"/><stop offset="0.042" stop-color="rgb(255,0,0)" stop-opacity="0.000"/><stop offset="0.052" stop-color="rgb(255,0,0)" stop-opacity="0.000"/><stop offset="0.062" stop-color="rgb(255,0,0)" stop-opacity="0.000"/><stop offset="0.073" stop-color="rgb(255,0,0)" stop-opacity="0.000"/><stop offset="0.083" stop-color="rgb(255,0,0)" stop-opacity="0.000"/><stop offset="0.094" stop-color="rgb(255,0,0)" stop-opacity="0.000"/><stop offset="0.104" stop-color="rgb(255,0,0)" stop-opacity="0.000"/><stop offset="0.115" stop-color="rgb(255,0,0)" stop-opacity="0.000"/><stop offset="0.125" stop-color="rgb(255,0,0)" stop-opacity="0.000"/><stop offset="0.135" stop-color="rgb(255,0,0)" stop-opacity="0.000"/><stop offset="0.146" stop-color="rgb(255,0,0)" stop-opacity="0.000"/><stop offset="0.156" stop-color="rgb(255,0,0)" stop-opacity="0.000"/><stop offset="0.167" stop-color="rgb(255,0,0)" stop-opacity="0.000"/><stop offset="0.177" stop-color="rgb(255,0,0)" stop-opacity="0.000"/><stop offset="0.188" stop-color="rgb(255,0,0)" stop-opacity="0.000"/><stop offset="0.198" stop-color="rgb(255,0,0)" stop-opacity="0.034"/><stop offset="0.208" stop-color="rgb(255,0,0)" stop-opacity="0.073"/><stop offset="0.219" stop-color="rgb(255,0,0)" stop-opacity="0.110"/><stop offset="0.229" stop-color="rgb(255,0,0)" stop-opacity="0.144"/><stop offset="0.240" stop-color="rgb(255,0,0)" stop-opacity="0.175"/><stop offset="0.250" stop-color="rgb(255,0,0)" stop-opacity="0.201"/><stop offset="0.260" stop-color="rgb(255,0,0)" stop-opacity="0.222"/><stop offset="0.271" stop-color="rgb(255,0,0)" stop-opacity="0.237"/><stop offset="0.281" stop-color="rgb(255,0,0)" stop-opacity="0.247"/><stop offset="0.292" stop-color="rgb(255,0,0)" stop-opacity="0.250"/><stop offset="0.302" stop-color="rgb(255,0,0)" stop-opacity="0.247"/><stop offset="0.312" stop-color="rgb(255,0,0)" stop-opacity="0.237"/><stop offset="0.323" stop-color="rgb(255,0,0)" stop-opacity="0.222"/><stop offset="0.333" stop-color="rgb(255,0,0)" stop-opacity="0.201"/><stop offset="0.344" stop-color="rgb(255,0,0)" stop-opacity="0.175"/><stop offset="0.354" stop-color="rgb(255,0,0)" stop-opacity="0.144"/><stop offset="0.365" stop-color="rgb(255,0,0)" stop-opacity="0.110"/><stop offset="0.375" stop-color="rgb(255,0,0)" stop-opacity="0.073"/><stop offset="0.385" stop-color="rgb(255,0,0)" stop-opacity="0.034"/><stop offset="0.396" stop-color="rgb(0,0,255)" stop-opacity="0.035"/><stop offset="0.406" stop-color="rgb(0,0,255)" stop-opacity="0.122"/><stop offset="0.417" stop-color="rgb(0,0,255)" stop-opacity="0.206"/><stop offset="0.427" stop-color="rgb(0,0,255)" stop-opacity="0.285"/><stop offset="0.438" stop-color="rgb(0,0,255)" stop-opacity="0.358"/><stop offset="0.448" stop-color="rgb(0,0,255)" stop-opacity="0.422"/><stop offset="0.458" stop-color="rgb(0,0,255)" stop-opacity="0.477"/><stop offset="0.469" stop-color="rgb(0,0,255)" stop-opacity="0.521"/><stop offset="0.479" stop-color="rgb(0,0,255)" stop-opacity="0.554"/><stop offset="0.490" stop-color="rgb(0,0,255)" stop-opacity="0.573"/><stop offset="0.500" stop-color="rgb(0,0,255)" stop-opacity="0.580"/><stop offset="0.510" stop-color="rgb(0,0,255)" stop-opacity="0.573"/><stop offset="0.521" stop-color="rgb(0,0,255)" stop-opacity="0.554"/><stop offset="0.531" stop-color="rgb(0,0,255)" stop-opacity="0.521"/><stop offset="0.542" stop-color="rgb(0,0,255)" stop-opacity="0.477"/><stop offset="0.552" stop-color="rgb(0,0,255)" stop-opacity="0.422"/><stop offset="0.562" stop-color="rgb(0,0,255)" stop-opacity="0.358"/><stop offset="0.573" stop-color="rgb(0,0,255)" stop-opacity="0.285"/><stop offset="0.583" stop-color="rgb(0,0,255)" stop-opacity="0.206"/><stop offset="0.594" stop-color="rgb(0,0,255)" stop-opacity="0.122"/><stop offset="0.604" stop-color="rgb(0,0,255)" stop-opacity="0.035"/><stop offset="0.615" stop-color="rgb(255,0,0)" stop-opacity="0.017"/><stop offset="0.625" stop-color="rgb(255,0,0)" stop-opacity="0.035"/><stop offset="0.635" stop-color="rgb(255,0,0)" stop-opacity="0.053"/><stop offset="0.646" stop-color="rgb(255,0,0)" stop-opacity="0.069"/><stop offset="0.656" stop-color="rgb(255,0,0)" stop-opacity="0.084"/><stop offset="0.667" stop-color="rgb(255,0,0)" stop-opacity="0.096"/><stop offset="0.677" stop-color="rgb(255,0,0)" stop-opacity="0.107"/><stop offset="0.688" stop-color="rgb(255,0,0)" stop-opacity="0.114"/><stop offset="0.698" stop-color="rgb(255,0,0)" stop-opacity="0.118"/><stop offset="0.708" stop-color="rgb(255,0,0)" stop-opacity="0.120"/><stop offset="0.719" stop-color="rgb(255,0,0)" stop-opacity="0.118"/><stop offset="0.729" stop-color="rgb(255,0,0)" stop-opacity="0.114"/><stop offset="0.740" stop-color="rgb(255,0,0)" stop-opacity="0.107"/><stop offset="0.750" stop-color="rgb(255,0,0)" stop-opacity="0.096"/><stop offset="0.760" stop-color="rgb(255,0,0)" stop-opacity="0.084"/><stop offset="0.771" stop-color="rgb(255,0,0)" stop-opacity="0.069"/><stop offset="0.781" stop-color="rgb(255,0,0)" stop-opacity="0.053"/><stop offset="0.792" stop-color="rgb(255,0,0)" stop-opacity="0.035"/><stop offset="0.802" stop-color="rgb(255,0,0)" stop-opacity="0.017"/><stop offset="0.812" stop-color="rgb(255,0,0)" stop-opacity="0.000"/><stop offset="0.823" stop-color="rgb(0,0,255)" stop-opacity="0.011"/><stop offset="0.833" stop-color="rgb(0,0,255)" stop-opacity="0.023"/><stop offset="0.844" stop-color="rgb(0,0,255)" stop-opacity="0.035"/><stop offset="0.854" stop-color="rgb(0,0,255)" stop-opacity="0.046"/><stop offset="0.865" stop-color="rgb(0,0,255)" stop-opacity="0.056"/><stop offset="0.875" stop-color="rgb(0,0,255)" stop-opacity="0.064"/><stop offset="0.885" stop-color="rgb(0,0,255)" stop-opacity="0.071"/><stop offset="0.896" stop-color="rgb(0,0,255)" stop-opacity="0.076"/><stop offset="0.906" stop-color="rgb(0,0,255)" stop-opacity="0.079"/><stop offset="0.917" stop-color="rgb(0,0,255)" stop-opacity="0.080"/><stop offset="0.927" stop-color="rgb(0,0,255)" stop-opacity="0.079"/><stop offset="0.938" stop-color="rgb(0,0,255)" stop-opacity="0.076"/><stop offset="0.948" stop-color="rgb(0,0,255)" stop-opacity="0.071"/><stop offset="0.958" stop-color="rgb(0,0,255)" stop-opacity="0.064"/><stop offset="0.969" stop-color="rgb(0,0,255)" stop-opacity="0.056"/><stop offset="0.979" stop-color="rgb(0,0,255)" stop-opacity="0.046"/><stop offset="0.990" stop-color="rgb(0,0,255)" stop-opacity="0.035"/><stop offset="1.000" stop-color="rgb(0,0,255)" stop-opacity="0.023"/></linearGradient>
<linearGradient id="R2mg" x1="0" y1="0" x2="1" y2="0"><stop offset="0.000" stop-color="#fff" stop-opacity="0.200"/><stop offset="0.103" stop-color="#fff" stop-opacity="1.000"/><stop offset="0.565" stop-color="#fff" stop-opacity="1.000"/><stop offset="0.770" stop-color="#fff" stop-opacity="0.600"/><stop offset="0.996" stop-color="#fff" stop-opacity="0.000"/></linearGradient>
<mask id="R2m" maskUnits="userSpaceOnUse" x="-5" y="-23" width="204.75" height="46"><rect x="0" y="-18" width="194.75" height="36" fill="url(#R2mg)"/></mask>
<linearGradient id="R3" x1="0" y1="0" x2="0" y2="1"><stop offset="0.000" stop-color="rgb(255,0,0)" stop-opacity="0.000"/><stop offset="0.010" stop-color="rgb(255,0,0)" stop-opacity="0.000"/><stop offset="0.021" stop-color="rgb(255,0,0)" stop-opacity="0.000"/><stop offset="0.031" stop-color="rgb(255,0,0)" stop-opacity="0.000"/><stop offset="0.042" stop-color="rgb(255,0,0)" stop-opacity="0.000"/><stop offset="0.052" stop-color="rgb(255,0,0)" stop-opacity="0.000"/><stop offset="0.062" stop-color="rgb(255,0,0)" stop-opacity="0.000"/><stop offset="0.073" stop-color="rgb(255,0,0)" stop-opacity="0.000"/><stop offset="0.083" stop-color="rgb(255,0,0)" stop-opacity="0.000"/><stop offset="0.094" stop-color="rgb(255,0,0)" stop-opacity="0.000"/><stop offset="0.104" stop-color="rgb(255,0,0)" stop-opacity="0.006"/><stop offset="0.115" stop-color="rgb(255,0,0)" stop-opacity="0.021"/><stop offset="0.125" stop-color="rgb(255,0,0)" stop-opacity="0.035"/><stop offset="0.135" stop-color="rgb(255,0,0)" stop-opacity="0.049"/><stop offset="0.146" stop-color="rgb(255,0,0)" stop-opacity="0.062"/><stop offset="0.156" stop-color="rgb(255,0,0)" stop-opacity="0.074"/><stop offset="0.167" stop-color="rgb(255,0,0)" stop-opacity="0.085"/><stop offset="0.177" stop-color="rgb(255,0,0)" stop-opacity="0.095"/><stop offset="0.188" stop-color="rgb(255,0,0)" stop-opacity="0.103"/><stop offset="0.198" stop-color="rgb(255,0,0)" stop-opacity="0.110"/><stop offset="0.208" stop-color="rgb(255,0,0)" stop-opacity="0.115"/><stop offset="0.219" stop-color="rgb(255,0,0)" stop-opacity="0.118"/><stop offset="0.229" stop-color="rgb(255,0,0)" stop-opacity="0.120"/><stop offset="0.240" stop-color="rgb(255,0,0)" stop-opacity="0.120"/><stop offset="0.250" stop-color="rgb(255,0,0)" stop-opacity="0.117"/><stop offset="0.260" stop-color="rgb(255,0,0)" stop-opacity="0.113"/><stop offset="0.271" stop-color="rgb(255,0,0)" stop-opacity="0.108"/><stop offset="0.281" stop-color="rgb(255,0,0)" stop-opacity="0.100"/><stop offset="0.292" stop-color="rgb(255,0,0)" stop-opacity="0.091"/><stop offset="0.302" stop-color="rgb(255,0,0)" stop-opacity="0.081"/><stop offset="0.312" stop-color="rgb(255,0,0)" stop-opacity="0.069"/><stop offset="0.323" stop-color="rgb(255,0,0)" stop-opacity="0.057"/><stop offset="0.333" stop-color="rgb(255,0,0)" stop-opacity="0.043"/><stop offset="0.344" stop-color="rgb(255,0,0)" stop-opacity="0.029"/><stop offset="0.354" stop-color="rgb(255,0,0)" stop-opacity="0.014"/><stop offset="0.365" stop-color="rgb(255,0,0)" stop-opacity="0.000"/><stop offset="0.375" stop-color="rgb(0,0,255)" stop-opacity="0.021"/><stop offset="0.385" stop-color="rgb(0,0,255)" stop-opacity="0.052"/><stop offset="0.396" stop-color="rgb(0,0,255)" stop-opacity="0.082"/><stop offset="0.406" stop-color="rgb(0,0,255)" stop-opacity="0.110"/><stop offset="0.417" stop-color="rgb(0,0,255)" stop-opacity="0.137"/><stop offset="0.427" stop-color="rgb(0,0,255)" stop-opacity="0.162"/><stop offset="0.438" stop-color="rgb(0,0,255)" stop-opacity="0.184"/><stop offset="0.448" stop-color="rgb(0,0,255)" stop-opacity="0.204"/><stop offset="0.458" stop-color="rgb(0,0,255)" stop-opacity="0.220"/><stop offset="0.469" stop-color="rgb(0,0,255)" stop-opacity="0.233"/><stop offset="0.479" stop-color="rgb(0,0,255)" stop-opacity="0.242"/><stop offset="0.490" stop-color="rgb(0,0,255)" stop-opacity="0.248"/><stop offset="0.500" stop-color="rgb(0,0,255)" stop-opacity="0.250"/><stop offset="0.510" stop-color="rgb(0,0,255)" stop-opacity="0.248"/><stop offset="0.521" stop-color="rgb(0,0,255)" stop-opacity="0.242"/><stop offset="0.531" stop-color="rgb(0,0,255)" stop-opacity="0.233"/><stop offset="0.542" stop-color="rgb(0,0,255)" stop-opacity="0.220"/><stop offset="0.552" stop-color="rgb(0,0,255)" stop-opacity="0.204"/><stop offset="0.562" stop-color="rgb(0,0,255)" stop-opacity="0.184"/><stop offset="0.573" stop-color="rgb(0,0,255)" stop-opacity="0.162"/><stop offset="0.583" stop-color="rgb(0,0,255)" stop-opacity="0.137"/><stop offset="0.594" stop-color="rgb(0,0,255)" stop-opacity="0.110"/><stop offset="0.604" stop-color="rgb(0,0,255)" stop-opacity="0.082"/><stop offset="0.615" stop-color="rgb(0,0,255)" stop-opacity="0.052"/><stop offset="0.625" stop-color="rgb(0,0,255)" stop-opacity="0.021"/><stop offset="0.635" stop-color="rgb(255,0,0)" stop-opacity="0.000"/><stop offset="0.646" stop-color="rgb(255,0,0)" stop-opacity="0.000"/><stop offset="0.656" stop-color="rgb(255,0,0)" stop-opacity="0.000"/><stop offset="0.667" stop-color="rgb(255,0,0)" stop-opacity="0.000"/><stop offset="0.677" stop-color="rgb(255,0,0)" stop-opacity="0.000"/><stop offset="0.688" stop-color="rgb(255,0,0)" stop-opacity="0.000"/><stop offset="0.698" stop-color="rgb(255,0,0)" stop-opacity="0.000"/><stop offset="0.708" stop-color="rgb(255,0,0)" stop-opacity="0.000"/><stop offset="0.719" stop-color="rgb(255,0,0)" stop-opacity="0.000"/><stop offset="0.729" stop-color="rgb(255,0,0)" stop-opacity="0.000"/><stop offset="0.740" stop-color="rgb(255,0,0)" stop-opacity="0.000"/><stop offset="0.750" stop-color="rgb(255,0,0)" stop-opacity="0.000"/><stop offset="0.760" stop-color="rgb(255,0,0)" stop-opacity="0.000"/><stop offset="0.771" stop-color="rgb(255,0,0)" stop-opacity="0.000"/><stop offset="0.781" stop-color="rgb(255,0,0)" stop-opacity="0.000"/><stop offset="0.792" stop-color="rgb(255,0,0)" stop-opacity="0.000"/><stop offset="0.802" stop-color="rgb(255,0,0)" stop-opacity="0.000"/><stop offset="0.812" stop-color="rgb(255,0,0)" stop-opacity="0.000"/><stop offset="0.823" stop-color="rgb(255,0,0)" stop-opacity="0.000"/><stop offset="0.833" stop-color="rgb(255,0,0)" stop-opacity="0.000"/><stop offset="0.844" stop-color="rgb(255,0,0)" stop-opacity="0.000"/><stop offset="0.854" stop-color="rgb(255,0,0)" stop-opacity="0.000"/><stop offset="0.865" stop-color="rgb(255,0,0)" stop-opacity="0.000"/><stop offset="0.875" stop-color="rgb(255,0,0)" stop-opacity="0.000"/><stop offset="0.885" stop-color="rgb(255,0,0)" stop-opacity="0.000"/><stop offset="0.896" stop-color="rgb(255,0,0)" stop-opacity="0.000"/><stop offset="0.906" stop-color="rgb(255,0,0)" stop-opacity="0.000"/><stop offset="0.917" stop-color="rgb(255,0,0)" stop-opacity="0.000"/><stop offset="0.927" stop-color="rgb(255,0,0)" stop-opacity="0.000"/><stop offset="0.938" stop-color="rgb(255,0,0)" stop-opacity="0.000"/><stop offset="0.948" stop-color="rgb(255,0,0)" stop-opacity="0.000"/><stop offset="0.958" stop-color="rgb(255,0,0)" stop-opacity="0.000"/><stop offset="0.969" stop-color="rgb(255,0,0)" stop-opacity="0.000"/><stop offset="0.979" stop-color="rgb(255,0,0)" stop-opacity="0.000"/><stop offset="0.990" stop-color="rgb(255,0,0)" stop-opacity="0.000"/><stop offset="1.000" stop-color="rgb(255,0,0)" stop-opacity="0.000"/></linearGradient>
<linearGradient id="R3mg" x1="0" y1="0" x2="1" y2="0"><stop offset="0.000" stop-color="#fff" stop-opacity="0.300"/><stop offset="0.291" stop-color="#fff" stop-opacity="1.000"/><stop offset="0.582" stop-color="#fff" stop-opacity="1.000"/><stop offset="0.873" stop-color="#fff" stop-opacity="0.000"/></linearGradient>
<mask id="R3m" maskUnits="userSpaceOnUse" x="-5" y="-19" width="113.15" height="38"><rect x="0" y="-14" width="103.15" height="28" fill="url(#R3mg)"/></mask>
<linearGradient id="S1" x1="0" y1="0" x2="0" y2="1"><stop offset="0.000" stop-color="rgb(255,0,0)" stop-opacity="0.000"/><stop offset="0.010" stop-color="rgb(255,0,0)" stop-opacity="0.000"/><stop offset="0.021" stop-color="rgb(255,0,0)" stop-opacity="0.000"/><stop offset="0.031" stop-color="rgb(255,0,0)" stop-opacity="0.000"/><stop offset="0.042" stop-color="rgb(255,0,0)" stop-opacity="0.000"/><stop offset="0.052" stop-color="rgb(255,0,0)" stop-opacity="0.000"/><stop offset="0.062" stop-color="rgb(255,0,0)" stop-opacity="0.000"/><stop offset="0.073" stop-color="rgb(255,0,0)" stop-opacity="0.000"/><stop offset="0.083" stop-color="rgb(255,0,0)" stop-opacity="0.000"/><stop offset="0.094" stop-color="rgb(255,0,0)" stop-opacity="0.000"/><stop offset="0.104" stop-color="rgb(255,0,0)" stop-opacity="0.000"/><stop offset="0.115" stop-color="rgb(255,0,0)" stop-opacity="0.000"/><stop offset="0.125" stop-color="rgb(255,0,0)" stop-opacity="0.000"/><stop offset="0.135" stop-color="rgb(255,0,0)" stop-opacity="0.000"/><stop offset="0.146" stop-color="rgb(255,0,0)" stop-opacity="0.000"/><stop offset="0.156" stop-color="rgb(255,0,0)" stop-opacity="0.000"/><stop offset="0.167" stop-color="rgb(255,0,0)" stop-opacity="0.000"/><stop offset="0.177" stop-color="rgb(255,0,0)" stop-opacity="0.000"/><stop offset="0.188" stop-color="rgb(255,0,0)" stop-opacity="0.000"/><stop offset="0.198" stop-color="rgb(255,0,0)" stop-opacity="0.000"/><stop offset="0.208" stop-color="rgb(255,0,0)" stop-opacity="0.000"/><stop offset="0.219" stop-color="rgb(0,0,255)" stop-opacity="0.017"/><stop offset="0.229" stop-color="rgb(0,0,255)" stop-opacity="0.036"/><stop offset="0.240" stop-color="rgb(0,0,255)" stop-opacity="0.052"/><stop offset="0.250" stop-color="rgb(0,0,255)" stop-opacity="0.066"/><stop offset="0.260" stop-color="rgb(0,0,255)" stop-opacity="0.075"/><stop offset="0.271" stop-color="rgb(0,0,255)" stop-opacity="0.080"/><stop offset="0.281" stop-color="rgb(0,0,255)" stop-opacity="0.079"/><stop offset="0.292" stop-color="rgb(0,0,255)" stop-opacity="0.074"/><stop offset="0.302" stop-color="rgb(0,0,255)" stop-opacity="0.063"/><stop offset="0.312" stop-color="rgb(0,0,255)" stop-opacity="0.049"/><stop offset="0.323" stop-color="rgb(0,0,255)" stop-opacity="0.032"/><stop offset="0.333" stop-color="rgb(255,0,0)" stop-opacity="0.002"/><stop offset="0.344" stop-color="rgb(255,0,0)" stop-opacity="0.041"/><stop offset="0.354" stop-color="rgb(255,0,0)" stop-opacity="0.064"/><stop offset="0.365" stop-color="rgb(255,0,0)" stop-opacity="0.083"/><stop offset="0.375" stop-color="rgb(255,0,0)" stop-opacity="0.095"/><stop offset="0.385" stop-color="rgb(255,0,0)" stop-opacity="0.100"/><stop offset="0.396" stop-color="rgb(255,0,0)" stop-opacity="0.098"/><stop offset="0.406" stop-color="rgb(255,0,0)" stop-opacity="0.088"/><stop offset="0.417" stop-color="rgb(255,0,0)" stop-opacity="0.072"/><stop offset="0.427" stop-color="rgb(255,0,0)" stop-opacity="0.051"/><stop offset="0.438" stop-color="rgb(255,0,0)" stop-opacity="0.026"/><stop offset="0.448" stop-color="rgb(0,0,255)" stop-opacity="0.052"/><stop offset="0.458" stop-color="rgb(0,0,255)" stop-opacity="0.100"/><stop offset="0.469" stop-color="rgb(0,0,255)" stop-opacity="0.141"/><stop offset="0.479" stop-color="rgb(0,0,255)" stop-opacity="0.173"/><stop offset="0.490" stop-color="rgb(0,0,255)" stop-opacity="0.193"/><stop offset="0.500" stop-color="rgb(0,0,255)" stop-opacity="0.200"/><stop offset="0.510" stop-color="rgb(0,0,255)" stop-opacity="0.193"/><stop offset="0.521" stop-color="rgb(0,0,255)" stop-opacity="0.173"/><stop offset="0.531" stop-color="rgb(0,0,255)" stop-opacity="0.141"/><stop offset="0.542" stop-color="rgb(0,0,255)" stop-opacity="0.100"/><stop offset="0.552" stop-color="rgb(0,0,255)" stop-opacity="0.052"/><stop offset="0.562" stop-color="rgb(255,0,0)" stop-opacity="0.000"/><stop offset="0.573" stop-color="rgb(255,0,0)" stop-opacity="0.057"/><stop offset="0.583" stop-color="rgb(255,0,0)" stop-opacity="0.110"/><stop offset="0.594" stop-color="rgb(255,0,0)" stop-opacity="0.156"/><stop offset="0.604" stop-color="rgb(255,0,0)" stop-opacity="0.191"/><stop offset="0.615" stop-color="rgb(255,0,0)" stop-opacity="0.213"/><stop offset="0.625" stop-color="rgb(255,0,0)" stop-opacity="0.220"/><stop offset="0.635" stop-color="rgb(255,0,0)" stop-opacity="0.213"/><stop offset="0.646" stop-color="rgb(255,0,0)" stop-opacity="0.191"/><stop offset="0.656" stop-color="rgb(255,0,0)" stop-opacity="0.156"/><stop offset="0.667" stop-color="rgb(255,0,0)" stop-opacity="0.110"/><stop offset="0.677" stop-color="rgb(255,0,0)" stop-opacity="0.057"/><stop offset="0.688" stop-color="rgb(255,0,0)" stop-opacity="0.000"/><stop offset="0.698" stop-color="rgb(0,0,255)" stop-opacity="0.057"/><stop offset="0.708" stop-color="rgb(0,0,255)" stop-opacity="0.110"/><stop offset="0.719" stop-color="rgb(0,0,255)" stop-opacity="0.156"/><stop offset="0.729" stop-color="rgb(0,0,255)" stop-opacity="0.191"/><stop offset="0.740" stop-color="rgb(0,0,255)" stop-opacity="0.213"/><stop offset="0.750" stop-color="rgb(0,0,255)" stop-opacity="0.220"/><stop offset="0.760" stop-color="rgb(0,0,255)" stop-opacity="0.213"/><stop offset="0.771" stop-color="rgb(0,0,255)" stop-opacity="0.191"/><stop offset="0.781" stop-color="rgb(0,0,255)" stop-opacity="0.156"/><stop offset="0.792" stop-color="rgb(0,0,255)" stop-opacity="0.110"/><stop offset="0.802" stop-color="rgb(0,0,255)" stop-opacity="0.057"/><stop offset="0.812" stop-color="rgb(255,0,0)" stop-opacity="0.000"/><stop offset="0.823" stop-color="rgb(255,0,0)" stop-opacity="0.016"/><stop offset="0.833" stop-color="rgb(255,0,0)" stop-opacity="0.030"/><stop offset="0.844" stop-color="rgb(255,0,0)" stop-opacity="0.042"/><stop offset="0.854" stop-color="rgb(255,0,0)" stop-opacity="0.052"/><stop offset="0.865" stop-color="rgb(255,0,0)" stop-opacity="0.058"/><stop offset="0.875" stop-color="rgb(255,0,0)" stop-opacity="0.060"/><stop offset="0.885" stop-color="rgb(255,0,0)" stop-opacity="0.058"/><stop offset="0.896" stop-color="rgb(255,0,0)" stop-opacity="0.052"/><stop offset="0.906" stop-color="rgb(255,0,0)" stop-opacity="0.042"/><stop offset="0.917" stop-color="rgb(255,0,0)" stop-opacity="0.030"/><stop offset="0.927" stop-color="rgb(255,0,0)" stop-opacity="0.016"/><stop offset="0.938" stop-color="rgb(255,0,0)" stop-opacity="0.000"/><stop offset="0.948" stop-color="rgb(255,0,0)" stop-opacity="0.000"/><stop offset="0.958" stop-color="rgb(255,0,0)" stop-opacity="0.000"/><stop offset="0.969" stop-color="rgb(255,0,0)" stop-opacity="0.000"/><stop offset="0.979" stop-color="rgb(255,0,0)" stop-opacity="0.000"/><stop offset="0.990" stop-color="rgb(255,0,0)" stop-opacity="0.000"/><stop offset="1.000" stop-color="rgb(255,0,0)" stop-opacity="0.000"/></linearGradient>
<linearGradient id="S1mg" x1="0" y1="0" x2="1" y2="0"><stop offset="0.000" stop-color="#fff" stop-opacity="0.000"/><stop offset="0.093" stop-color="#fff" stop-opacity="0.900"/><stop offset="0.621" stop-color="#fff" stop-opacity="1.000"/><stop offset="1.000" stop-color="#fff" stop-opacity="0.150"/></linearGradient>
<mask id="S1m" maskUnits="userSpaceOnUse" x="-5" y="-25" width="171.15" height="50"><rect x="0" y="-20" width="161.15" height="40" fill="url(#S1mg)"/></mask>
<linearGradient id="S2" x1="0" y1="0" x2="0" y2="1"><stop offset="0.000" stop-color="rgb(255,0,0)" stop-opacity="0.000"/><stop offset="0.010" stop-color="rgb(255,0,0)" stop-opacity="0.000"/><stop offset="0.021" stop-color="rgb(255,0,0)" stop-opacity="0.000"/><stop offset="0.031" stop-color="rgb(255,0,0)" stop-opacity="0.000"/><stop offset="0.042" stop-color="rgb(255,0,0)" stop-opacity="0.000"/><stop offset="0.052" stop-color="rgb(255,0,0)" stop-opacity="0.000"/><stop offset="0.062" stop-color="rgb(255,0,0)" stop-opacity="0.000"/><stop offset="0.073" stop-color="rgb(255,0,0)" stop-opacity="0.000"/><stop offset="0.083" stop-color="rgb(255,0,0)" stop-opacity="0.000"/><stop offset="0.094" stop-color="rgb(255,0,0)" stop-opacity="0.000"/><stop offset="0.104" stop-color="rgb(255,0,0)" stop-opacity="0.000"/><stop offset="0.115" stop-color="rgb(255,0,0)" stop-opacity="0.000"/><stop offset="0.125" stop-color="rgb(255,0,0)" stop-opacity="0.000"/><stop offset="0.135" stop-color="rgb(255,0,0)" stop-opacity="0.000"/><stop offset="0.146" stop-color="rgb(255,0,0)" stop-opacity="0.000"/><stop offset="0.156" stop-color="rgb(255,0,0)" stop-opacity="0.000"/><stop offset="0.167" stop-color="rgb(255,0,0)" stop-opacity="0.000"/><stop offset="0.177" stop-color="rgb(255,0,0)" stop-opacity="0.000"/><stop offset="0.188" stop-color="rgb(255,0,0)" stop-opacity="0.000"/><stop offset="0.198" stop-color="rgb(255,0,0)" stop-opacity="0.000"/><stop offset="0.208" stop-color="rgb(255,0,0)" stop-opacity="0.000"/><stop offset="0.219" stop-color="rgb(255,0,0)" stop-opacity="0.000"/><stop offset="0.229" stop-color="rgb(255,0,0)" stop-opacity="0.000"/><stop offset="0.240" stop-color="rgb(255,0,0)" stop-opacity="0.000"/><stop offset="0.250" stop-color="rgb(255,0,0)" stop-opacity="0.000"/><stop offset="0.260" stop-color="rgb(0,0,255)" stop-opacity="0.008"/><stop offset="0.271" stop-color="rgb(0,0,255)" stop-opacity="0.016"/><stop offset="0.281" stop-color="rgb(0,0,255)" stop-opacity="0.023"/><stop offset="0.292" stop-color="rgb(0,0,255)" stop-opacity="0.031"/><stop offset="0.302" stop-color="rgb(0,0,255)" stop-opacity="0.039"/><stop offset="0.312" stop-color="rgb(0,0,255)" stop-opacity="0.046"/><stop offset="0.323" stop-color="rgb(0,0,255)" stop-opacity="0.053"/><stop offset="0.333" stop-color="rgb(0,0,255)" stop-opacity="0.060"/><stop offset="0.344" stop-color="rgb(0,0,255)" stop-opacity="0.067"/><stop offset="0.354" stop-color="rgb(0,0,255)" stop-opacity="0.073"/><stop offset="0.365" stop-color="rgb(0,0,255)" stop-opacity="0.079"/><stop offset="0.375" stop-color="rgb(0,0,255)" stop-opacity="0.085"/><stop offset="0.385" stop-color="rgb(0,0,255)" stop-opacity="0.090"/><stop offset="0.396" stop-color="rgb(0,0,255)" stop-opacity="0.095"/><stop offset="0.406" stop-color="rgb(0,0,255)" stop-opacity="0.100"/><stop offset="0.417" stop-color="rgb(0,0,255)" stop-opacity="0.104"/><stop offset="0.427" stop-color="rgb(0,0,255)" stop-opacity="0.108"/><stop offset="0.438" stop-color="rgb(0,0,255)" stop-opacity="0.111"/><stop offset="0.448" stop-color="rgb(0,0,255)" stop-opacity="0.114"/><stop offset="0.458" stop-color="rgb(0,0,255)" stop-opacity="0.116"/><stop offset="0.469" stop-color="rgb(0,0,255)" stop-opacity="0.118"/><stop offset="0.479" stop-color="rgb(0,0,255)" stop-opacity="0.119"/><stop offset="0.490" stop-color="rgb(0,0,255)" stop-opacity="0.120"/><stop offset="0.500" stop-color="rgb(0,0,255)" stop-opacity="0.120"/><stop offset="0.510" stop-color="rgb(0,0,255)" stop-opacity="0.120"/><stop offset="0.521" stop-color="rgb(0,0,255)" stop-opacity="0.119"/><stop offset="0.531" stop-color="rgb(0,0,255)" stop-opacity="0.118"/><stop offset="0.542" stop-color="rgb(0,0,255)" stop-opacity="0.116"/><stop offset="0.552" stop-color="rgb(0,0,255)" stop-opacity="0.114"/><stop offset="0.562" stop-color="rgb(0,0,255)" stop-opacity="0.111"/><stop offset="0.573" stop-color="rgb(0,0,255)" stop-opacity="0.108"/><stop offset="0.583" stop-color="rgb(0,0,255)" stop-opacity="0.104"/><stop offset="0.594" stop-color="rgb(0,0,255)" stop-opacity="0.100"/><stop offset="0.604" stop-color="rgb(0,0,255)" stop-opacity="0.095"/><stop offset="0.615" stop-color="rgb(0,0,255)" stop-opacity="0.090"/><stop offset="0.625" stop-color="rgb(0,0,255)" stop-opacity="0.085"/><stop offset="0.635" stop-color="rgb(0,0,255)" stop-opacity="0.079"/><stop offset="0.646" stop-color="rgb(0,0,255)" stop-opacity="0.073"/><stop offset="0.656" stop-color="rgb(0,0,255)" stop-opacity="0.067"/><stop offset="0.667" stop-color="rgb(0,0,255)" stop-opacity="0.060"/><stop offset="0.677" stop-color="rgb(0,0,255)" stop-opacity="0.053"/><stop offset="0.688" stop-color="rgb(0,0,255)" stop-opacity="0.046"/><stop offset="0.698" stop-color="rgb(0,0,255)" stop-opacity="0.039"/><stop offset="0.708" stop-color="rgb(0,0,255)" stop-opacity="0.031"/><stop offset="0.719" stop-color="rgb(0,0,255)" stop-opacity="0.023"/><stop offset="0.729" stop-color="rgb(0,0,255)" stop-opacity="0.016"/><stop offset="0.740" stop-color="rgb(0,0,255)" stop-opacity="0.008"/><stop offset="0.750" stop-color="rgb(255,0,0)" stop-opacity="0.000"/><stop offset="0.760" stop-color="rgb(255,0,0)" stop-opacity="0.000"/><stop offset="0.771" stop-color="rgb(255,0,0)" stop-opacity="0.000"/><stop offset="0.781" stop-color="rgb(255,0,0)" stop-opacity="0.000"/><stop offset="0.792" stop-color="rgb(255,0,0)" stop-opacity="0.000"/><stop offset="0.802" stop-color="rgb(255,0,0)" stop-opacity="0.000"/><stop offset="0.812" stop-color="rgb(255,0,0)" stop-opacity="0.000"/><stop offset="0.823" stop-color="rgb(255,0,0)" stop-opacity="0.000"/><stop offset="0.833" stop-color="rgb(255,0,0)" stop-opacity="0.000"/><stop offset="0.844" stop-color="rgb(255,0,0)" stop-opacity="0.000"/><stop offset="0.854" stop-color="rgb(255,0,0)" stop-opacity="0.000"/><stop offset="0.865" stop-color="rgb(255,0,0)" stop-opacity="0.000"/><stop offset="0.875" stop-color="rgb(255,0,0)" stop-opacity="0.000"/><stop offset="0.885" stop-color="rgb(255,0,0)" stop-opacity="0.000"/><stop offset="0.896" stop-color="rgb(255,0,0)" stop-opacity="0.000"/><stop offset="0.906" stop-color="rgb(255,0,0)" stop-opacity="0.000"/><stop offset="0.917" stop-color="rgb(255,0,0)" stop-opacity="0.000"/><stop offset="0.927" stop-color="rgb(255,0,0)" stop-opacity="0.000"/><stop offset="0.938" stop-color="rgb(255,0,0)" stop-opacity="0.000"/><stop offset="0.948" stop-color="rgb(255,0,0)" stop-opacity="0.000"/><stop offset="0.958" stop-color="rgb(255,0,0)" stop-opacity="0.000"/><stop offset="0.969" stop-color="rgb(255,0,0)" stop-opacity="0.000"/><stop offset="0.979" stop-color="rgb(255,0,0)" stop-opacity="0.000"/><stop offset="0.990" stop-color="rgb(255,0,0)" stop-opacity="0.000"/><stop offset="1.000" stop-color="rgb(255,0,0)" stop-opacity="0.000"/></linearGradient>
<linearGradient id="S2mg" x1="0" y1="0" x2="1" y2="0"><stop offset="0.000" stop-color="#fff" stop-opacity="0.000"/><stop offset="0.500" stop-color="#fff" stop-opacity="1.000"/><stop offset="1.000" stop-color="#fff" stop-opacity="0.000"/></linearGradient>
<mask id="S2m" maskUnits="userSpaceOnUse" x="-5" y="-10" width="33.32" height="20"><rect x="0" y="-5" width="23.32" height="10" fill="url(#S2mg)"/></mask>
<radialGradient id="bl1"><stop offset="0.000" stop-color="rgb(155,0,0)" stop-opacity="1.000"/><stop offset="0.125" stop-color="rgb(159,0,0)" stop-opacity="1.000"/><stop offset="0.250" stop-color="rgb(173,0,0)" stop-opacity="1.000"/><stop offset="0.375" stop-color="rgb(195,0,0)" stop-opacity="1.000"/><stop offset="0.500" stop-color="rgb(225,0,0)" stop-opacity="1.000"/><stop offset="0.625" stop-color="rgb(255,0,0)" stop-opacity="0.945"/><stop offset="0.750" stop-color="rgb(255,0,0)" stop-opacity="0.615"/><stop offset="0.875" stop-color="rgb(255,0,0)" stop-opacity="0.273"/><stop offset="1" stop-color="rgb(255,0,0)" stop-opacity="0"/></radialGradient>
<radialGradient id="bl2"><stop offset="0.000" stop-color="rgb(0,0,205)" stop-opacity="1.000"/><stop offset="0.125" stop-color="rgb(0,0,208)" stop-opacity="1.000"/><stop offset="0.250" stop-color="rgb(0,0,219)" stop-opacity="1.000"/><stop offset="0.375" stop-color="rgb(0,0,236)" stop-opacity="1.000"/><stop offset="0.500" stop-color="rgb(0,0,255)" stop-opacity="0.963"/><stop offset="0.625" stop-color="rgb(0,0,255)" stop-opacity="0.735"/><stop offset="0.750" stop-color="rgb(0,0,255)" stop-opacity="0.478"/><stop offset="0.875" stop-color="rgb(0,0,255)" stop-opacity="0.212"/><stop offset="1" stop-color="rgb(255,0,0)" stop-opacity="0"/></radialGradient>
<radialGradient id="bl3"><stop offset="0.000" stop-color="rgb(0,0,223)" stop-opacity="1.000"/><stop offset="0.125" stop-color="rgb(0,0,226)" stop-opacity="1.000"/><stop offset="0.250" stop-color="rgb(0,0,236)" stop-opacity="1.000"/><stop offset="0.375" stop-color="rgb(0,0,251)" stop-opacity="1.000"/><stop offset="0.500" stop-color="rgb(0,0,255)" stop-opacity="0.860"/><stop offset="0.625" stop-color="rgb(0,0,255)" stop-opacity="0.657"/><stop offset="0.750" stop-color="rgb(0,0,255)" stop-opacity="0.427"/><stop offset="0.875" stop-color="rgb(0,0,255)" stop-opacity="0.190"/><stop offset="1" stop-color="rgb(255,0,0)" stop-opacity="0"/></radialGradient>
<radialGradient id="bl4"><stop offset="0.000" stop-color="rgb(0,0,248)" stop-opacity="1.000"/><stop offset="0.125" stop-color="rgb(0,0,251)" stop-opacity="1.000"/><stop offset="0.250" stop-color="rgb(0,0,255)" stop-opacity="0.965"/><stop offset="0.375" stop-color="rgb(0,0,255)" stop-opacity="0.862"/><stop offset="0.500" stop-color="rgb(0,0,255)" stop-opacity="0.722"/><stop offset="0.625" stop-color="rgb(0,0,255)" stop-opacity="0.551"/><stop offset="0.750" stop-color="rgb(0,0,255)" stop-opacity="0.358"/><stop offset="0.875" stop-color="rgb(0,0,255)" stop-opacity="0.159"/><stop offset="1" stop-color="rgb(255,0,0)" stop-opacity="0"/></radialGradient>
<radialGradient id="bl5"><stop offset="0.000" stop-color="rgb(255,0,0)" stop-opacity="0.120"/><stop offset="0.125" stop-color="rgb(255,0,0)" stop-opacity="0.118"/><stop offset="0.250" stop-color="rgb(255,0,0)" stop-opacity="0.110"/><stop offset="0.375" stop-color="rgb(255,0,0)" stop-opacity="0.099"/><stop offset="0.500" stop-color="rgb(255,0,0)" stop-opacity="0.083"/><stop offset="0.625" stop-color="rgb(255,0,0)" stop-opacity="0.063"/><stop offset="0.750" stop-color="rgb(255,0,0)" stop-opacity="0.041"/><stop offset="0.875" stop-color="rgb(255,0,0)" stop-opacity="0.018"/><stop offset="1" stop-color="rgb(255,0,0)" stop-opacity="0"/></radialGradient>
<radialGradient id="bl6"><stop offset="0.000" stop-color="rgb(0,0,255)" stop-opacity="0.700"/><stop offset="0.125" stop-color="rgb(0,0,255)" stop-opacity="0.686"/><stop offset="0.250" stop-color="rgb(0,0,255)" stop-opacity="0.644"/><stop offset="0.375" stop-color="rgb(0,0,255)" stop-opacity="0.575"/><stop offset="0.500" stop-color="rgb(0,0,255)" stop-opacity="0.482"/><stop offset="0.625" stop-color="rgb(0,0,255)" stop-opacity="0.368"/><stop offset="0.750" stop-color="rgb(0,0,255)" stop-opacity="0.239"/><stop offset="0.875" stop-color="rgb(0,0,255)" stop-opacity="0.106"/><stop offset="1" stop-color="rgb(255,0,0)" stop-opacity="0"/></radialGradient>
<radialGradient id="bl7"><stop offset="0.000" stop-color="rgb(255,0,0)" stop-opacity="0.340"/><stop offset="0.125" stop-color="rgb(255,0,0)" stop-opacity="0.334"/><stop offset="0.250" stop-color="rgb(255,0,0)" stop-opacity="0.315"/><stop offset="0.375" stop-color="rgb(255,0,0)" stop-opacity="0.279"/><stop offset="0.500" stop-color="rgb(255,0,0)" stop-opacity="0.230"/><stop offset="0.625" stop-color="rgb(255,0,0)" stop-opacity="0.168"/><stop offset="0.750" stop-color="rgb(255,0,0)" stop-opacity="0.101"/><stop offset="0.875" stop-color="rgb(255,0,0)" stop-opacity="0.038"/><stop offset="1" stop-color="rgb(255,0,0)" stop-opacity="0"/></radialGradient>
<radialGradient id="bl8"><stop offset="0.000" stop-color="rgb(0,0,255)" stop-opacity="0.300"/><stop offset="0.125" stop-color="rgb(0,0,255)" stop-opacity="0.295"/><stop offset="0.250" stop-color="rgb(0,0,255)" stop-opacity="0.278"/><stop offset="0.375" stop-color="rgb(0,0,255)" stop-opacity="0.246"/><stop offset="0.500" stop-color="rgb(0,0,255)" stop-opacity="0.203"/><stop offset="0.625" stop-color="rgb(0,0,255)" stop-opacity="0.149"/><stop offset="0.750" stop-color="rgb(0,0,255)" stop-opacity="0.089"/><stop offset="0.875" stop-color="rgb(0,0,255)" stop-opacity="0.034"/><stop offset="1" stop-color="rgb(255,0,0)" stop-opacity="0"/></radialGradient>
<radialGradient id="bl9"><stop offset="0.000" stop-color="rgb(0,0,255)" stop-opacity="0.140"/><stop offset="0.125" stop-color="rgb(0,0,255)" stop-opacity="0.138"/><stop offset="0.250" stop-color="rgb(0,0,255)" stop-opacity="0.130"/><stop offset="0.375" stop-color="rgb(0,0,255)" stop-opacity="0.115"/><stop offset="0.500" stop-color="rgb(0,0,255)" stop-opacity="0.095"/><stop offset="0.625" stop-color="rgb(0,0,255)" stop-opacity="0.069"/><stop offset="0.750" stop-color="rgb(0,0,255)" stop-opacity="0.042"/><stop offset="0.875" stop-color="rgb(0,0,255)" stop-opacity="0.016"/><stop offset="1" stop-color="rgb(255,0,0)" stop-opacity="0"/></radialGradient>
<radialGradient id="bl10"><stop offset="0.000" stop-color="rgb(0,0,255)" stop-opacity="0.320"/><stop offset="0.125" stop-color="rgb(0,0,255)" stop-opacity="0.315"/><stop offset="0.250" stop-color="rgb(0,0,255)" stop-opacity="0.296"/><stop offset="0.375" stop-color="rgb(0,0,255)" stop-opacity="0.263"/><stop offset="0.500" stop-color="rgb(0,0,255)" stop-opacity="0.216"/><stop offset="0.625" stop-color="rgb(0,0,255)" stop-opacity="0.158"/><stop offset="0.750" stop-color="rgb(0,0,255)" stop-opacity="0.095"/><stop offset="0.875" stop-color="rgb(0,0,255)" stop-opacity="0.036"/><stop offset="1" stop-color="rgb(255,0,0)" stop-opacity="0"/></radialGradient>
<radialGradient id="bl11"><stop offset="0.000" stop-color="rgb(255,0,0)" stop-opacity="0.150"/><stop offset="0.125" stop-color="rgb(255,0,0)" stop-opacity="0.148"/><stop offset="0.250" stop-color="rgb(255,0,0)" stop-opacity="0.139"/><stop offset="0.375" stop-color="rgb(255,0,0)" stop-opacity="0.123"/><stop offset="0.500" stop-color="rgb(255,0,0)" stop-opacity="0.101"/><stop offset="0.625" stop-color="rgb(255,0,0)" stop-opacity="0.074"/><stop offset="0.750" stop-color="rgb(255,0,0)" stop-opacity="0.045"/><stop offset="0.875" stop-color="rgb(255,0,0)" stop-opacity="0.017"/><stop offset="1" stop-color="rgb(255,0,0)" stop-opacity="0"/></radialGradient>
<radialGradient id="bl12"><stop offset="0.000" stop-color="rgb(0,0,255)" stop-opacity="0.070"/><stop offset="0.125" stop-color="rgb(0,0,255)" stop-opacity="0.069"/><stop offset="0.250" stop-color="rgb(0,0,255)" stop-opacity="0.065"/><stop offset="0.375" stop-color="rgb(0,0,255)" stop-opacity="0.058"/><stop offset="0.500" stop-color="rgb(0,0,255)" stop-opacity="0.047"/><stop offset="0.625" stop-color="rgb(0,0,255)" stop-opacity="0.035"/><stop offset="0.750" stop-color="rgb(0,0,255)" stop-opacity="0.021"/><stop offset="0.875" stop-color="rgb(0,0,255)" stop-opacity="0.008"/><stop offset="1" stop-color="rgb(255,0,0)" stop-opacity="0"/></radialGradient>
<radialGradient id="bl13"><stop offset="0.000" stop-color="rgb(0,0,255)" stop-opacity="0.060"/><stop offset="0.125" stop-color="rgb(0,0,255)" stop-opacity="0.059"/><stop offset="0.250" stop-color="rgb(0,0,255)" stop-opacity="0.056"/><stop offset="0.375" stop-color="rgb(0,0,255)" stop-opacity="0.049"/><stop offset="0.500" stop-color="rgb(0,0,255)" stop-opacity="0.041"/><stop offset="0.625" stop-color="rgb(0,0,255)" stop-opacity="0.030"/><stop offset="0.750" stop-color="rgb(0,0,255)" stop-opacity="0.018"/><stop offset="0.875" stop-color="rgb(0,0,255)" stop-opacity="0.007"/><stop offset="1" stop-color="rgb(255,0,0)" stop-opacity="0"/></radialGradient>
<radialGradient id="bl14"><stop offset="0.000" stop-color="rgb(255,0,0)" stop-opacity="0.150"/><stop offset="0.125" stop-color="rgb(255,0,0)" stop-opacity="0.148"/><stop offset="0.250" stop-color="rgb(255,0,0)" stop-opacity="0.139"/><stop offset="0.375" stop-color="rgb(255,0,0)" stop-opacity="0.123"/><stop offset="0.500" stop-color="rgb(255,0,0)" stop-opacity="0.101"/><stop offset="0.625" stop-color="rgb(255,0,0)" stop-opacity="0.074"/><stop offset="0.750" stop-color="rgb(255,0,0)" stop-opacity="0.045"/><stop offset="0.875" stop-color="rgb(255,0,0)" stop-opacity="0.017"/><stop offset="1" stop-color="rgb(255,0,0)" stop-opacity="0"/></radialGradient>
<radialGradient id="bl15"><stop offset="0.000" stop-color="rgb(0,0,255)" stop-opacity="0.280"/><stop offset="0.125" stop-color="rgb(0,0,255)" stop-opacity="0.275"/><stop offset="0.250" stop-color="rgb(0,0,255)" stop-opacity="0.259"/><stop offset="0.375" stop-color="rgb(0,0,255)" stop-opacity="0.230"/><stop offset="0.500" stop-color="rgb(0,0,255)" stop-opacity="0.189"/><stop offset="0.625" stop-color="rgb(0,0,255)" stop-opacity="0.139"/><stop offset="0.750" stop-color="rgb(0,0,255)" stop-opacity="0.083"/><stop offset="0.875" stop-color="rgb(0,0,255)" stop-opacity="0.031"/><stop offset="1" stop-color="rgb(255,0,0)" stop-opacity="0"/></radialGradient>
<radialGradient id="bl16"><stop offset="0.000" stop-color="rgb(0,0,255)" stop-opacity="0.075"/><stop offset="0.125" stop-color="rgb(0,0,255)" stop-opacity="0.074"/><stop offset="0.250" stop-color="rgb(0,0,255)" stop-opacity="0.069"/><stop offset="0.375" stop-color="rgb(0,0,255)" stop-opacity="0.062"/><stop offset="0.500" stop-color="rgb(0,0,255)" stop-opacity="0.051"/><stop offset="0.625" stop-color="rgb(0,0,255)" stop-opacity="0.037"/><stop offset="0.750" stop-color="rgb(0,0,255)" stop-opacity="0.022"/><stop offset="0.875" stop-color="rgb(0,0,255)" stop-opacity="0.008"/><stop offset="1" stop-color="rgb(255,0,0)" stop-opacity="0"/></radialGradient>
<radialGradient id="bl17"><stop offset="0.000" stop-color="rgb(0,0,255)" stop-opacity="0.120"/><stop offset="0.125" stop-color="rgb(0,0,255)" stop-opacity="0.118"/><stop offset="0.250" stop-color="rgb(0,0,255)" stop-opacity="0.111"/><stop offset="0.375" stop-color="rgb(0,0,255)" stop-opacity="0.099"/><stop offset="0.500" stop-color="rgb(0,0,255)" stop-opacity="0.081"/><stop offset="0.625" stop-color="rgb(0,0,255)" stop-opacity="0.059"/><stop offset="0.750" stop-color="rgb(0,0,255)" stop-opacity="0.036"/><stop offset="0.875" stop-color="rgb(0,0,255)" stop-opacity="0.013"/><stop offset="1" stop-color="rgb(255,0,0)" stop-opacity="0"/></radialGradient>
</defs>
<path clip-path="url(#ca)" d="M137.5,412 L137.5,253 Q137.5,251.5 139,251.45 L246.5,248.05 Q248,248 248,246.5 L248,8" fill="none" stroke="#0000ff" stroke-width="3.2"/>
<g fill="#ff0000"><circle cx="137.4" cy="408.6" r="2.7"/><circle cx="137.4" cy="396.43" r="2.7"/><circle cx="137.4" cy="384.26" r="2.7"/><circle cx="137.4" cy="372.09" r="2.7"/><circle cx="137.4" cy="359.92" r="2.7"/><circle cx="137.4" cy="347.75" r="2.7"/><circle cx="137.4" cy="335.58" r="2.7"/><circle cx="138.3" cy="323.4" r="2.7"/><circle cx="139.6" cy="311.5" r="2.7"/><circle cx="142.5" cy="299.8" r="2.7"/><circle cx="147.3" cy="289.8" r="2.7"/><circle cx="154.2" cy="281.5" r="2.7"/><circle cx="161.5" cy="275.3" r="2.7"/><circle cx="169.9" cy="269.6" r="2.7"/><circle cx="178.4" cy="264.4" r="2.7"/><circle cx="187.1" cy="259.8" r="2.7"/><circle cx="195.6" cy="255.5" r="2.7"/><circle cx="204.6" cy="250.8" r="2.7"/><circle cx="213.1" cy="245.9" r="2.7"/><circle cx="221.5" cy="240.7" r="2.7"/><circle cx="229.5" cy="234.3" r="2.7"/><circle cx="236.4" cy="226.8" r="2.7"/><circle cx="241.6" cy="217.3" r="2.7"/><circle cx="245.1" cy="206" r="2.7"/><circle cx="246.6" cy="194" r="2.7"/><circle cx="247.5" cy="182.03" r="2.7"/><circle cx="247.5" cy="169.86" r="2.7"/><circle cx="247.5" cy="157.69" r="2.7"/><circle cx="247.5" cy="145.52" r="2.7"/><circle cx="247.5" cy="133.35" r="2.7"/><circle cx="247.5" cy="121.18" r="2.7"/><circle cx="247.5" cy="109.01" r="2.7"/><circle cx="247.5" cy="96.84" r="2.7"/><circle cx="247.5" cy="84.67" r="2.7"/><circle cx="247.5" cy="72.5" r="2.7"/><circle cx="247.5" cy="60.33" r="2.7"/><circle cx="247.5" cy="48.16" r="2.7"/><circle cx="247.5" cy="35.99" r="2.7"/><circle cx="247.5" cy="23.82" r="2.7"/><circle cx="247.5" cy="11.65" r="2.7"/></g>
<line clip-path="url(#ca)" x1="137.06" y1="410" x2="305.1" y2="8" stroke="#000" stroke-width="3" stroke-dasharray="11.8 12" stroke-dashoffset="0.2"/>
<rect x="89.7" y="12" width="217.5" height="396.2" fill="none" stroke="#000" stroke-width="2.4"/>
<path d="M176.8,408.2V399.5M176.8,12V20.7M263.3,408.2V399.5M263.3,12V20.7M89.7,144H98.5M307.2,144H298.4M89.7,276H98.5M307.2,276H298.4" stroke="#000" stroke-width="2.2" fill="none"/>
<g font-size="25" fill="#000">
<text x="80.6" y="21.7" text-anchor="end">1.5</text>
<text x="80.6" y="153.7" text-anchor="end">1.0</text>
<text x="80.6" y="285.7" text-anchor="end">0.5</text>
<text x="73.6" y="436.8" text-anchor="middle">0</text>
<text x="176.8" y="436.8" text-anchor="middle">1</text>
<text x="263.3" y="436.8" text-anchor="middle">2</text>
</g>
<g font-size="29.5" fill="#000">
<text x="0" y="25">(<tspan font-style="italic">a</tspan>)</text>
<text y="484"><tspan x="117.2" font-style="italic">N</tspan><tspan x="140.6">(</tspan><tspan x="150.1" font-style="italic">z</tspan><tspan x="161.3">)</tspan><tspan x="177.3">(</tspan><tspan x="185.6">rad</tspan><tspan x="234.7">s</tspan><tspan x="272.8">)</tspan></text>
<rect x="247.7" y="465.6" width="12.5" height="1.4"/>
<text x="262.4" y="472.2" font-size="19.5">1</text>
<text transform="translate(27.5 207) rotate(-90)" text-anchor="middle"><tspan font-style="italic">z</tspan> (m)</text>
</g>
<rect x="409" y="15" width="530.4" height="389.7" fill="#fff"/>
<g clip-path="url(#cupper)"><g clip-path="url(#cpL)"><g transform="translate(432 259.96) rotate(-31.8)"><rect x="0" y="-22" width="185.9" height="44" fill="url(#L1)" mask="url(#L1m)"/></g></g><g clip-path="url(#cpL)"><g transform="translate(440 255) rotate(-31.8)"><rect x="0" y="-22" width="176.49" height="44" fill="url(#L1u)" mask="url(#L1um)"/></g></g><g clip-path="url(#cpR)"><g transform="translate(580 178.2) rotate(30.96)"><rect x="0" y="-22" width="125.95" height="44" fill="url(#D1)"/></g></g><g clip-path="url(#cpR)"><g transform="translate(580 178.2) rotate(30.96)"><rect x="0" y="-22" width="128.28" height="44" fill="url(#D1t)" mask="url(#D1tm)"/></g></g><g><g transform="translate(701 244.7) rotate(-31.59)"><rect x="0" y="-24" width="239.49" height="48" fill="url(#R1)" mask="url(#R1m)"/></g></g><g><g transform="translate(694 249) rotate(-31.59)"><rect x="0" y="-24" width="247.71" height="48" fill="url(#R1t)" mask="url(#R1tm)"/></g></g><g><g transform="translate(755 259.78) rotate(-30.96)"><rect x="0" y="-18" width="194.75" height="36" fill="url(#R2)" mask="url(#R2m)"/></g></g><g><g transform="translate(815 253.6) rotate(-29.25)"><rect x="0" y="-14" width="103.15" height="28" fill="url(#R3)" mask="url(#R3m)"/></g></g><g><g transform="translate(699 226) rotate(-55.62)"><rect x="0" y="-20" width="161.15" height="40" fill="url(#S1)" mask="url(#S1m)"/></g></g><g><g transform="translate(712 180) rotate(-59.04)"><rect x="0" y="-5" width="23.32" height="10" fill="url(#S2)" mask="url(#S2m)"/></g></g></g>
<g clip-path="url(#cupper)"><ellipse cx="693.5" cy="246.8" rx="10" ry="4.6" fill="url(#bl1)"/><ellipse cx="692.5" cy="238.2" rx="8.5" ry="5.6" fill="url(#bl2)" transform="rotate(8 692.5 238.2)"/><ellipse cx="678" cy="248.3" rx="8.5" ry="3.6" fill="url(#bl3)"/><ellipse cx="712.5" cy="247.8" rx="8" ry="3.2" fill="url(#bl4)"/><ellipse cx="690" cy="226" rx="5" ry="3" fill="url(#bl5)"/><ellipse cx="452" cy="246.5" rx="9" ry="3" fill="url(#bl6)"/></g>
<g clip-path="url(#clower)"><ellipse cx="724.4" cy="372" rx="8.5" ry="28" fill="url(#bl7)"/><ellipse cx="740.7" cy="374" rx="8" ry="25" fill="url(#bl8)"/><ellipse cx="705.5" cy="360" rx="7" ry="34" fill="url(#bl9)" transform="rotate(-8 705.5 360)"/><ellipse cx="762.9" cy="282" rx="7.5" ry="28" fill="url(#bl10)"/><ellipse cx="779.2" cy="280" rx="6.5" ry="21" fill="url(#bl11)"/><ellipse cx="797.2" cy="290.5" rx="6" ry="25" fill="url(#bl12)"/><ellipse cx="780.8" cy="362" rx="7" ry="32" fill="url(#bl13)"/><ellipse cx="800.5" cy="366" rx="7" ry="26" fill="url(#bl14)"/><ellipse cx="817.5" cy="372" rx="6" ry="20" fill="url(#bl15)"/><ellipse cx="836" cy="302" rx="9" ry="45" fill="url(#bl16)"/><ellipse cx="750" cy="330" rx="7" ry="30" fill="url(#bl17)" transform="rotate(18 750 330)"/><g filter="url(#blr2)"><line x1="678" y1="254" x2="709" y2="392" stroke="rgb(0,0,255)" stroke-opacity="0.130" stroke-width="8" stroke-linecap="round"/><line x1="696" y1="254" x2="720" y2="345" stroke="rgb(255,0,0)" stroke-opacity="0.100" stroke-width="6" stroke-linecap="round"/><line x1="710" y1="254" x2="726" y2="323" stroke="rgb(0,0,255)" stroke-opacity="0.050" stroke-width="5" stroke-linecap="round"/><line x1="761" y1="290" x2="741" y2="365" stroke="rgb(0,0,255)" stroke-opacity="0.150" stroke-width="8" stroke-linecap="round"/><line x1="750" y1="268" x2="738" y2="310" stroke="rgb(255,0,0)" stroke-opacity="0.050" stroke-width="4" stroke-linecap="round"/></g></g>
<line x1="409" y1="249.4" x2="939.4" y2="249.4" stroke="#0000ff" stroke-opacity="0.05" stroke-width="1.2"/>
<path d="M409,15H939.4V404.7H409Z M513.2,117V404.7H846.9V117Z" fill="rgb(187,187,187)" fill-opacity="0.25" fill-rule="evenodd"/>
<polygon points="569.9,153.9 604.3,174.6 599.7,212 565.7,191.7" fill="#808080"/>
<g stroke="#000" stroke-width="3" fill="none" stroke-dasharray="11.6 12.5">
<line x1="584.8" y1="407" x2="584.8" y2="144" stroke-dashoffset="-0.2"/>
<line x1="822.6" y1="407" x2="822.6" y2="144" stroke-dashoffset="20.9"/>
<line x1="585.2" y1="143.9" x2="822.8" y2="143.9" stroke-dashoffset="21.5"/>
<line x1="585.2" y1="407.8" x2="822.8" y2="407.8" stroke-width="2.7"/>
</g>
<rect x="623.4" y="62" width="281" height="21.3" fill="#fff"/>
<rect x="625.4" y="64" width="277" height="17.3" fill="url(#cbar)" stroke="#000" stroke-width="2"/>
<line x1="763.9" y1="64" x2="763.9" y2="70.5" stroke="#000" stroke-width="1.6"/>
<g font-size="19" fill="#000" text-anchor="middle" style="paint-order:stroke" stroke="#fff" stroke-width="2">
<text x="627" y="53.9">−1.3</text>
<text x="901.6" y="53.9">1.3</text>
</g>
<text y="49.5" font-size="24.5"><tspan x="708.5" font-style="italic">ρ</tspan><tspan x="728.2">(</tspan><tspan x="736.4">kg</tspan><tspan x="769.7">m</tspan><tspan x="813.6">)</tspan></text>
<rect x="791" y="33.6" width="12.3" height="1.2"/>
<text x="803" y="40.6" font-size="16">3</text>
<rect x="406.6" y="12" width="535.3" height="395.6" fill="none" stroke="#000" stroke-width="2.4"/>
<path d="M585,407.6V396.5M585,12V23.6M763.5,407.6V396.5M763.5,12V23.6M406.6,144H418.3M941.9,144H930.2M406.6,276H418.3M941.9,276H930.2" stroke="#000" stroke-width="2.2" fill="none"/>
<g font-size="25" fill="#000" text-anchor="middle">
<text x="408.6" y="436.8">−1.5</text>
<text x="586.6" y="436.8">0</text>
<text x="764.5" y="436.8">1.5</text>
<text x="941" y="436.8">3.0</text>
</g>
<g font-size="29.5" fill="#000">
<text x="352" y="25">(<tspan font-style="italic">b</tspan>)</text>
<text y="480.2"><tspan x="643" font-style="italic">x</tspan><tspan x="664.5">(</tspan><tspan x="674.4">m</tspan><tspan x="697.9">)</tspan></text>
</g>
</svg></body></html>
